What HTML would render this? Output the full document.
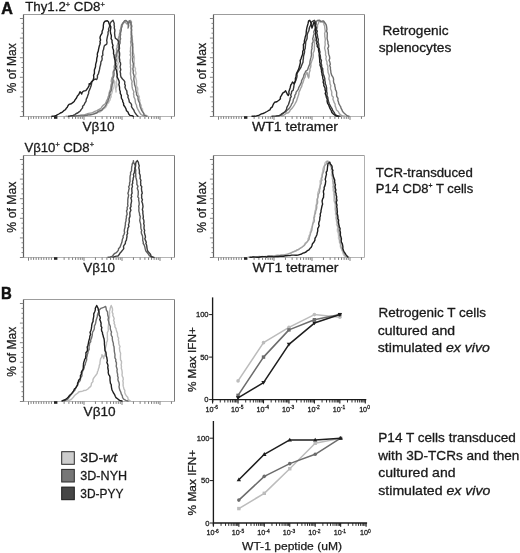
<!DOCTYPE html>
<html><head><meta charset="utf-8"><style>
html,body{margin:0;padding:0;background:#fff;}
body{filter:grayscale(1);}
svg{display:block;font-family:"Liberation Sans", sans-serif;}
text{stroke:#1a1a1a;stroke-width:0.27px;}
text.d{stroke-width:0.32px;}
</style></head><body>
<svg width="520" height="553" viewBox="0 0 520 553">
<rect width="520" height="553" fill="#fff"/>
<line x1="23.50" y1="14.50" x2="174.50" y2="14.50" stroke="#9c9c9c" stroke-width="1.1" />
<line x1="23.50" y1="116.50" x2="174.50" y2="116.50" stroke="#b5b5b5" stroke-width="1" />
<line x1="174.50" y1="14.50" x2="174.50" y2="116.50" stroke="#7a7a7a" stroke-width="1" />
<line x1="23.50" y1="14.50" x2="23.50" y2="116.50" stroke="#5e5e5e" stroke-width="1.2" />
<line x1="19.90" y1="116.50" x2="23.50" y2="116.50" stroke="#777" stroke-width="0.9" />
<line x1="21.50" y1="111.60" x2="23.50" y2="111.60" stroke="#777" stroke-width="0.9" />
<line x1="21.50" y1="106.70" x2="23.50" y2="106.70" stroke="#777" stroke-width="0.9" />
<line x1="21.50" y1="101.80" x2="23.50" y2="101.80" stroke="#777" stroke-width="0.9" />
<line x1="19.90" y1="96.90" x2="23.50" y2="96.90" stroke="#777" stroke-width="0.9" />
<line x1="21.50" y1="92.00" x2="23.50" y2="92.00" stroke="#777" stroke-width="0.9" />
<line x1="21.50" y1="87.10" x2="23.50" y2="87.10" stroke="#777" stroke-width="0.9" />
<line x1="21.50" y1="82.20" x2="23.50" y2="82.20" stroke="#777" stroke-width="0.9" />
<line x1="19.90" y1="77.30" x2="23.50" y2="77.30" stroke="#777" stroke-width="0.9" />
<line x1="21.50" y1="72.40" x2="23.50" y2="72.40" stroke="#777" stroke-width="0.9" />
<line x1="21.50" y1="67.50" x2="23.50" y2="67.50" stroke="#777" stroke-width="0.9" />
<line x1="21.50" y1="62.60" x2="23.50" y2="62.60" stroke="#777" stroke-width="0.9" />
<line x1="19.90" y1="57.70" x2="23.50" y2="57.70" stroke="#777" stroke-width="0.9" />
<line x1="21.50" y1="52.80" x2="23.50" y2="52.80" stroke="#777" stroke-width="0.9" />
<line x1="21.50" y1="47.90" x2="23.50" y2="47.90" stroke="#777" stroke-width="0.9" />
<line x1="21.50" y1="43.00" x2="23.50" y2="43.00" stroke="#777" stroke-width="0.9" />
<line x1="19.90" y1="38.10" x2="23.50" y2="38.10" stroke="#777" stroke-width="0.9" />
<line x1="21.50" y1="33.20" x2="23.50" y2="33.20" stroke="#777" stroke-width="0.9" />
<line x1="21.50" y1="28.30" x2="23.50" y2="28.30" stroke="#777" stroke-width="0.9" />
<line x1="21.50" y1="23.40" x2="23.50" y2="23.40" stroke="#777" stroke-width="0.9" />
<line x1="19.90" y1="18.50" x2="23.50" y2="18.50" stroke="#777" stroke-width="0.9" />
<line x1="28.50" y1="116.50" x2="28.50" y2="119.70" stroke="#666" stroke-width="0.85" />
<line x1="31.05" y1="116.50" x2="31.05" y2="118.90" stroke="#666" stroke-width="0.85" />
<line x1="33.60" y1="116.50" x2="33.60" y2="118.90" stroke="#666" stroke-width="0.85" />
<line x1="36.15" y1="116.50" x2="36.15" y2="118.90" stroke="#666" stroke-width="0.85" />
<line x1="38.70" y1="116.50" x2="38.70" y2="118.90" stroke="#666" stroke-width="0.85" />
<line x1="41.25" y1="116.50" x2="41.25" y2="118.90" stroke="#666" stroke-width="0.85" />
<line x1="43.80" y1="116.50" x2="43.80" y2="118.90" stroke="#666" stroke-width="0.85" />
<line x1="46.35" y1="116.50" x2="46.35" y2="118.90" stroke="#666" stroke-width="0.85" />
<line x1="48.90" y1="116.50" x2="48.90" y2="118.90" stroke="#666" stroke-width="0.85" />
<line x1="51.45" y1="116.50" x2="51.45" y2="118.90" stroke="#666" stroke-width="0.85" />
<line x1="84.00" y1="116.50" x2="84.00" y2="119.90" stroke="#666" stroke-width="0.85" />
<line x1="64.13" y1="116.50" x2="64.13" y2="118.90" stroke="#666" stroke-width="0.85" />
<line x1="68.88" y1="116.50" x2="68.88" y2="118.90" stroke="#666" stroke-width="0.85" />
<line x1="72.56" y1="116.50" x2="72.56" y2="118.90" stroke="#666" stroke-width="0.85" />
<line x1="75.57" y1="116.50" x2="75.57" y2="118.90" stroke="#666" stroke-width="0.85" />
<line x1="78.11" y1="116.50" x2="78.11" y2="118.90" stroke="#666" stroke-width="0.85" />
<line x1="80.32" y1="116.50" x2="80.32" y2="118.90" stroke="#666" stroke-width="0.85" />
<line x1="82.26" y1="116.50" x2="82.26" y2="118.90" stroke="#666" stroke-width="0.85" />
<line x1="122.00" y1="116.50" x2="122.00" y2="119.90" stroke="#666" stroke-width="0.85" />
<line x1="95.44" y1="116.50" x2="95.44" y2="118.90" stroke="#666" stroke-width="0.85" />
<line x1="102.13" y1="116.50" x2="102.13" y2="118.90" stroke="#666" stroke-width="0.85" />
<line x1="106.88" y1="116.50" x2="106.88" y2="118.90" stroke="#666" stroke-width="0.85" />
<line x1="110.56" y1="116.50" x2="110.56" y2="118.90" stroke="#666" stroke-width="0.85" />
<line x1="113.57" y1="116.50" x2="113.57" y2="118.90" stroke="#666" stroke-width="0.85" />
<line x1="116.11" y1="116.50" x2="116.11" y2="118.90" stroke="#666" stroke-width="0.85" />
<line x1="118.32" y1="116.50" x2="118.32" y2="118.90" stroke="#666" stroke-width="0.85" />
<line x1="120.26" y1="116.50" x2="120.26" y2="118.90" stroke="#666" stroke-width="0.85" />
<line x1="160.00" y1="116.50" x2="160.00" y2="119.90" stroke="#666" stroke-width="0.85" />
<line x1="133.44" y1="116.50" x2="133.44" y2="118.90" stroke="#666" stroke-width="0.85" />
<line x1="140.13" y1="116.50" x2="140.13" y2="118.90" stroke="#666" stroke-width="0.85" />
<line x1="144.88" y1="116.50" x2="144.88" y2="118.90" stroke="#666" stroke-width="0.85" />
<line x1="148.56" y1="116.50" x2="148.56" y2="118.90" stroke="#666" stroke-width="0.85" />
<line x1="151.57" y1="116.50" x2="151.57" y2="118.90" stroke="#666" stroke-width="0.85" />
<line x1="154.11" y1="116.50" x2="154.11" y2="118.90" stroke="#666" stroke-width="0.85" />
<line x1="156.32" y1="116.50" x2="156.32" y2="118.90" stroke="#666" stroke-width="0.85" />
<line x1="158.26" y1="116.50" x2="158.26" y2="118.90" stroke="#666" stroke-width="0.85" />
<line x1="171.44" y1="116.50" x2="171.44" y2="118.90" stroke="#666" stroke-width="0.85" />
<rect x="54.0" y="116.2" width="3.4" height="2.6" fill="#222"/>
<line x1="213.50" y1="14.50" x2="364.50" y2="14.50" stroke="#9c9c9c" stroke-width="1.1" />
<line x1="213.50" y1="116.50" x2="364.50" y2="116.50" stroke="#b5b5b5" stroke-width="1" />
<line x1="364.50" y1="14.50" x2="364.50" y2="116.50" stroke="#7a7a7a" stroke-width="1" />
<line x1="213.50" y1="14.50" x2="213.50" y2="116.50" stroke="#5e5e5e" stroke-width="1.2" />
<line x1="209.90" y1="116.50" x2="213.50" y2="116.50" stroke="#777" stroke-width="0.9" />
<line x1="211.50" y1="111.60" x2="213.50" y2="111.60" stroke="#777" stroke-width="0.9" />
<line x1="211.50" y1="106.70" x2="213.50" y2="106.70" stroke="#777" stroke-width="0.9" />
<line x1="211.50" y1="101.80" x2="213.50" y2="101.80" stroke="#777" stroke-width="0.9" />
<line x1="209.90" y1="96.90" x2="213.50" y2="96.90" stroke="#777" stroke-width="0.9" />
<line x1="211.50" y1="92.00" x2="213.50" y2="92.00" stroke="#777" stroke-width="0.9" />
<line x1="211.50" y1="87.10" x2="213.50" y2="87.10" stroke="#777" stroke-width="0.9" />
<line x1="211.50" y1="82.20" x2="213.50" y2="82.20" stroke="#777" stroke-width="0.9" />
<line x1="209.90" y1="77.30" x2="213.50" y2="77.30" stroke="#777" stroke-width="0.9" />
<line x1="211.50" y1="72.40" x2="213.50" y2="72.40" stroke="#777" stroke-width="0.9" />
<line x1="211.50" y1="67.50" x2="213.50" y2="67.50" stroke="#777" stroke-width="0.9" />
<line x1="211.50" y1="62.60" x2="213.50" y2="62.60" stroke="#777" stroke-width="0.9" />
<line x1="209.90" y1="57.70" x2="213.50" y2="57.70" stroke="#777" stroke-width="0.9" />
<line x1="211.50" y1="52.80" x2="213.50" y2="52.80" stroke="#777" stroke-width="0.9" />
<line x1="211.50" y1="47.90" x2="213.50" y2="47.90" stroke="#777" stroke-width="0.9" />
<line x1="211.50" y1="43.00" x2="213.50" y2="43.00" stroke="#777" stroke-width="0.9" />
<line x1="209.90" y1="38.10" x2="213.50" y2="38.10" stroke="#777" stroke-width="0.9" />
<line x1="211.50" y1="33.20" x2="213.50" y2="33.20" stroke="#777" stroke-width="0.9" />
<line x1="211.50" y1="28.30" x2="213.50" y2="28.30" stroke="#777" stroke-width="0.9" />
<line x1="211.50" y1="23.40" x2="213.50" y2="23.40" stroke="#777" stroke-width="0.9" />
<line x1="209.90" y1="18.50" x2="213.50" y2="18.50" stroke="#777" stroke-width="0.9" />
<line x1="218.50" y1="116.50" x2="218.50" y2="119.70" stroke="#666" stroke-width="0.85" />
<line x1="221.05" y1="116.50" x2="221.05" y2="118.90" stroke="#666" stroke-width="0.85" />
<line x1="223.60" y1="116.50" x2="223.60" y2="118.90" stroke="#666" stroke-width="0.85" />
<line x1="226.15" y1="116.50" x2="226.15" y2="118.90" stroke="#666" stroke-width="0.85" />
<line x1="228.70" y1="116.50" x2="228.70" y2="118.90" stroke="#666" stroke-width="0.85" />
<line x1="231.25" y1="116.50" x2="231.25" y2="118.90" stroke="#666" stroke-width="0.85" />
<line x1="233.80" y1="116.50" x2="233.80" y2="118.90" stroke="#666" stroke-width="0.85" />
<line x1="236.35" y1="116.50" x2="236.35" y2="118.90" stroke="#666" stroke-width="0.85" />
<line x1="238.90" y1="116.50" x2="238.90" y2="118.90" stroke="#666" stroke-width="0.85" />
<line x1="241.45" y1="116.50" x2="241.45" y2="118.90" stroke="#666" stroke-width="0.85" />
<line x1="274.00" y1="116.50" x2="274.00" y2="119.90" stroke="#666" stroke-width="0.85" />
<line x1="254.13" y1="116.50" x2="254.13" y2="118.90" stroke="#666" stroke-width="0.85" />
<line x1="258.88" y1="116.50" x2="258.88" y2="118.90" stroke="#666" stroke-width="0.85" />
<line x1="262.56" y1="116.50" x2="262.56" y2="118.90" stroke="#666" stroke-width="0.85" />
<line x1="265.57" y1="116.50" x2="265.57" y2="118.90" stroke="#666" stroke-width="0.85" />
<line x1="268.11" y1="116.50" x2="268.11" y2="118.90" stroke="#666" stroke-width="0.85" />
<line x1="270.32" y1="116.50" x2="270.32" y2="118.90" stroke="#666" stroke-width="0.85" />
<line x1="272.26" y1="116.50" x2="272.26" y2="118.90" stroke="#666" stroke-width="0.85" />
<line x1="312.00" y1="116.50" x2="312.00" y2="119.90" stroke="#666" stroke-width="0.85" />
<line x1="285.44" y1="116.50" x2="285.44" y2="118.90" stroke="#666" stroke-width="0.85" />
<line x1="292.13" y1="116.50" x2="292.13" y2="118.90" stroke="#666" stroke-width="0.85" />
<line x1="296.88" y1="116.50" x2="296.88" y2="118.90" stroke="#666" stroke-width="0.85" />
<line x1="300.56" y1="116.50" x2="300.56" y2="118.90" stroke="#666" stroke-width="0.85" />
<line x1="303.57" y1="116.50" x2="303.57" y2="118.90" stroke="#666" stroke-width="0.85" />
<line x1="306.11" y1="116.50" x2="306.11" y2="118.90" stroke="#666" stroke-width="0.85" />
<line x1="308.32" y1="116.50" x2="308.32" y2="118.90" stroke="#666" stroke-width="0.85" />
<line x1="310.26" y1="116.50" x2="310.26" y2="118.90" stroke="#666" stroke-width="0.85" />
<line x1="350.00" y1="116.50" x2="350.00" y2="119.90" stroke="#666" stroke-width="0.85" />
<line x1="323.44" y1="116.50" x2="323.44" y2="118.90" stroke="#666" stroke-width="0.85" />
<line x1="330.13" y1="116.50" x2="330.13" y2="118.90" stroke="#666" stroke-width="0.85" />
<line x1="334.88" y1="116.50" x2="334.88" y2="118.90" stroke="#666" stroke-width="0.85" />
<line x1="338.56" y1="116.50" x2="338.56" y2="118.90" stroke="#666" stroke-width="0.85" />
<line x1="341.57" y1="116.50" x2="341.57" y2="118.90" stroke="#666" stroke-width="0.85" />
<line x1="344.11" y1="116.50" x2="344.11" y2="118.90" stroke="#666" stroke-width="0.85" />
<line x1="346.32" y1="116.50" x2="346.32" y2="118.90" stroke="#666" stroke-width="0.85" />
<line x1="348.26" y1="116.50" x2="348.26" y2="118.90" stroke="#666" stroke-width="0.85" />
<line x1="361.44" y1="116.50" x2="361.44" y2="118.90" stroke="#666" stroke-width="0.85" />
<rect x="244.0" y="116.2" width="3.4" height="2.6" fill="#222"/>
<line x1="23.50" y1="155.50" x2="174.50" y2="155.50" stroke="#9c9c9c" stroke-width="1.1" />
<line x1="23.50" y1="257.50" x2="174.50" y2="257.50" stroke="#b5b5b5" stroke-width="1" />
<line x1="174.50" y1="155.50" x2="174.50" y2="257.50" stroke="#7a7a7a" stroke-width="1" />
<line x1="23.50" y1="155.50" x2="23.50" y2="257.50" stroke="#5e5e5e" stroke-width="1.2" />
<line x1="19.90" y1="257.50" x2="23.50" y2="257.50" stroke="#777" stroke-width="0.9" />
<line x1="21.50" y1="252.60" x2="23.50" y2="252.60" stroke="#777" stroke-width="0.9" />
<line x1="21.50" y1="247.70" x2="23.50" y2="247.70" stroke="#777" stroke-width="0.9" />
<line x1="21.50" y1="242.80" x2="23.50" y2="242.80" stroke="#777" stroke-width="0.9" />
<line x1="19.90" y1="237.90" x2="23.50" y2="237.90" stroke="#777" stroke-width="0.9" />
<line x1="21.50" y1="233.00" x2="23.50" y2="233.00" stroke="#777" stroke-width="0.9" />
<line x1="21.50" y1="228.10" x2="23.50" y2="228.10" stroke="#777" stroke-width="0.9" />
<line x1="21.50" y1="223.20" x2="23.50" y2="223.20" stroke="#777" stroke-width="0.9" />
<line x1="19.90" y1="218.30" x2="23.50" y2="218.30" stroke="#777" stroke-width="0.9" />
<line x1="21.50" y1="213.40" x2="23.50" y2="213.40" stroke="#777" stroke-width="0.9" />
<line x1="21.50" y1="208.50" x2="23.50" y2="208.50" stroke="#777" stroke-width="0.9" />
<line x1="21.50" y1="203.60" x2="23.50" y2="203.60" stroke="#777" stroke-width="0.9" />
<line x1="19.90" y1="198.70" x2="23.50" y2="198.70" stroke="#777" stroke-width="0.9" />
<line x1="21.50" y1="193.80" x2="23.50" y2="193.80" stroke="#777" stroke-width="0.9" />
<line x1="21.50" y1="188.90" x2="23.50" y2="188.90" stroke="#777" stroke-width="0.9" />
<line x1="21.50" y1="184.00" x2="23.50" y2="184.00" stroke="#777" stroke-width="0.9" />
<line x1="19.90" y1="179.10" x2="23.50" y2="179.10" stroke="#777" stroke-width="0.9" />
<line x1="21.50" y1="174.20" x2="23.50" y2="174.20" stroke="#777" stroke-width="0.9" />
<line x1="21.50" y1="169.30" x2="23.50" y2="169.30" stroke="#777" stroke-width="0.9" />
<line x1="21.50" y1="164.40" x2="23.50" y2="164.40" stroke="#777" stroke-width="0.9" />
<line x1="19.90" y1="159.50" x2="23.50" y2="159.50" stroke="#777" stroke-width="0.9" />
<line x1="28.50" y1="257.50" x2="28.50" y2="260.70" stroke="#666" stroke-width="0.85" />
<line x1="31.05" y1="257.50" x2="31.05" y2="259.90" stroke="#666" stroke-width="0.85" />
<line x1="33.60" y1="257.50" x2="33.60" y2="259.90" stroke="#666" stroke-width="0.85" />
<line x1="36.15" y1="257.50" x2="36.15" y2="259.90" stroke="#666" stroke-width="0.85" />
<line x1="38.70" y1="257.50" x2="38.70" y2="259.90" stroke="#666" stroke-width="0.85" />
<line x1="41.25" y1="257.50" x2="41.25" y2="259.90" stroke="#666" stroke-width="0.85" />
<line x1="43.80" y1="257.50" x2="43.80" y2="259.90" stroke="#666" stroke-width="0.85" />
<line x1="46.35" y1="257.50" x2="46.35" y2="259.90" stroke="#666" stroke-width="0.85" />
<line x1="48.90" y1="257.50" x2="48.90" y2="259.90" stroke="#666" stroke-width="0.85" />
<line x1="51.45" y1="257.50" x2="51.45" y2="259.90" stroke="#666" stroke-width="0.85" />
<line x1="84.00" y1="257.50" x2="84.00" y2="260.90" stroke="#666" stroke-width="0.85" />
<line x1="64.13" y1="257.50" x2="64.13" y2="259.90" stroke="#666" stroke-width="0.85" />
<line x1="68.88" y1="257.50" x2="68.88" y2="259.90" stroke="#666" stroke-width="0.85" />
<line x1="72.56" y1="257.50" x2="72.56" y2="259.90" stroke="#666" stroke-width="0.85" />
<line x1="75.57" y1="257.50" x2="75.57" y2="259.90" stroke="#666" stroke-width="0.85" />
<line x1="78.11" y1="257.50" x2="78.11" y2="259.90" stroke="#666" stroke-width="0.85" />
<line x1="80.32" y1="257.50" x2="80.32" y2="259.90" stroke="#666" stroke-width="0.85" />
<line x1="82.26" y1="257.50" x2="82.26" y2="259.90" stroke="#666" stroke-width="0.85" />
<line x1="122.00" y1="257.50" x2="122.00" y2="260.90" stroke="#666" stroke-width="0.85" />
<line x1="95.44" y1="257.50" x2="95.44" y2="259.90" stroke="#666" stroke-width="0.85" />
<line x1="102.13" y1="257.50" x2="102.13" y2="259.90" stroke="#666" stroke-width="0.85" />
<line x1="106.88" y1="257.50" x2="106.88" y2="259.90" stroke="#666" stroke-width="0.85" />
<line x1="110.56" y1="257.50" x2="110.56" y2="259.90" stroke="#666" stroke-width="0.85" />
<line x1="113.57" y1="257.50" x2="113.57" y2="259.90" stroke="#666" stroke-width="0.85" />
<line x1="116.11" y1="257.50" x2="116.11" y2="259.90" stroke="#666" stroke-width="0.85" />
<line x1="118.32" y1="257.50" x2="118.32" y2="259.90" stroke="#666" stroke-width="0.85" />
<line x1="120.26" y1="257.50" x2="120.26" y2="259.90" stroke="#666" stroke-width="0.85" />
<line x1="160.00" y1="257.50" x2="160.00" y2="260.90" stroke="#666" stroke-width="0.85" />
<line x1="133.44" y1="257.50" x2="133.44" y2="259.90" stroke="#666" stroke-width="0.85" />
<line x1="140.13" y1="257.50" x2="140.13" y2="259.90" stroke="#666" stroke-width="0.85" />
<line x1="144.88" y1="257.50" x2="144.88" y2="259.90" stroke="#666" stroke-width="0.85" />
<line x1="148.56" y1="257.50" x2="148.56" y2="259.90" stroke="#666" stroke-width="0.85" />
<line x1="151.57" y1="257.50" x2="151.57" y2="259.90" stroke="#666" stroke-width="0.85" />
<line x1="154.11" y1="257.50" x2="154.11" y2="259.90" stroke="#666" stroke-width="0.85" />
<line x1="156.32" y1="257.50" x2="156.32" y2="259.90" stroke="#666" stroke-width="0.85" />
<line x1="158.26" y1="257.50" x2="158.26" y2="259.90" stroke="#666" stroke-width="0.85" />
<line x1="171.44" y1="257.50" x2="171.44" y2="259.90" stroke="#666" stroke-width="0.85" />
<rect x="54.0" y="257.2" width="3.4" height="2.6" fill="#222"/>
<line x1="23.50" y1="299.50" x2="174.50" y2="299.50" stroke="#9c9c9c" stroke-width="1.1" />
<line x1="23.50" y1="401.50" x2="174.50" y2="401.50" stroke="#b5b5b5" stroke-width="1" />
<line x1="174.50" y1="299.50" x2="174.50" y2="401.50" stroke="#7a7a7a" stroke-width="1" />
<line x1="23.50" y1="299.50" x2="23.50" y2="401.50" stroke="#5e5e5e" stroke-width="1.2" />
<line x1="19.90" y1="401.50" x2="23.50" y2="401.50" stroke="#777" stroke-width="0.9" />
<line x1="21.50" y1="396.60" x2="23.50" y2="396.60" stroke="#777" stroke-width="0.9" />
<line x1="21.50" y1="391.70" x2="23.50" y2="391.70" stroke="#777" stroke-width="0.9" />
<line x1="21.50" y1="386.80" x2="23.50" y2="386.80" stroke="#777" stroke-width="0.9" />
<line x1="19.90" y1="381.90" x2="23.50" y2="381.90" stroke="#777" stroke-width="0.9" />
<line x1="21.50" y1="377.00" x2="23.50" y2="377.00" stroke="#777" stroke-width="0.9" />
<line x1="21.50" y1="372.10" x2="23.50" y2="372.10" stroke="#777" stroke-width="0.9" />
<line x1="21.50" y1="367.20" x2="23.50" y2="367.20" stroke="#777" stroke-width="0.9" />
<line x1="19.90" y1="362.30" x2="23.50" y2="362.30" stroke="#777" stroke-width="0.9" />
<line x1="21.50" y1="357.40" x2="23.50" y2="357.40" stroke="#777" stroke-width="0.9" />
<line x1="21.50" y1="352.50" x2="23.50" y2="352.50" stroke="#777" stroke-width="0.9" />
<line x1="21.50" y1="347.60" x2="23.50" y2="347.60" stroke="#777" stroke-width="0.9" />
<line x1="19.90" y1="342.70" x2="23.50" y2="342.70" stroke="#777" stroke-width="0.9" />
<line x1="21.50" y1="337.80" x2="23.50" y2="337.80" stroke="#777" stroke-width="0.9" />
<line x1="21.50" y1="332.90" x2="23.50" y2="332.90" stroke="#777" stroke-width="0.9" />
<line x1="21.50" y1="328.00" x2="23.50" y2="328.00" stroke="#777" stroke-width="0.9" />
<line x1="19.90" y1="323.10" x2="23.50" y2="323.10" stroke="#777" stroke-width="0.9" />
<line x1="21.50" y1="318.20" x2="23.50" y2="318.20" stroke="#777" stroke-width="0.9" />
<line x1="21.50" y1="313.30" x2="23.50" y2="313.30" stroke="#777" stroke-width="0.9" />
<line x1="21.50" y1="308.40" x2="23.50" y2="308.40" stroke="#777" stroke-width="0.9" />
<line x1="19.90" y1="303.50" x2="23.50" y2="303.50" stroke="#777" stroke-width="0.9" />
<line x1="28.50" y1="401.50" x2="28.50" y2="404.70" stroke="#666" stroke-width="0.85" />
<line x1="31.05" y1="401.50" x2="31.05" y2="403.90" stroke="#666" stroke-width="0.85" />
<line x1="33.60" y1="401.50" x2="33.60" y2="403.90" stroke="#666" stroke-width="0.85" />
<line x1="36.15" y1="401.50" x2="36.15" y2="403.90" stroke="#666" stroke-width="0.85" />
<line x1="38.70" y1="401.50" x2="38.70" y2="403.90" stroke="#666" stroke-width="0.85" />
<line x1="41.25" y1="401.50" x2="41.25" y2="403.90" stroke="#666" stroke-width="0.85" />
<line x1="43.80" y1="401.50" x2="43.80" y2="403.90" stroke="#666" stroke-width="0.85" />
<line x1="46.35" y1="401.50" x2="46.35" y2="403.90" stroke="#666" stroke-width="0.85" />
<line x1="48.90" y1="401.50" x2="48.90" y2="403.90" stroke="#666" stroke-width="0.85" />
<line x1="51.45" y1="401.50" x2="51.45" y2="403.90" stroke="#666" stroke-width="0.85" />
<line x1="84.00" y1="401.50" x2="84.00" y2="404.90" stroke="#666" stroke-width="0.85" />
<line x1="64.13" y1="401.50" x2="64.13" y2="403.90" stroke="#666" stroke-width="0.85" />
<line x1="68.88" y1="401.50" x2="68.88" y2="403.90" stroke="#666" stroke-width="0.85" />
<line x1="72.56" y1="401.50" x2="72.56" y2="403.90" stroke="#666" stroke-width="0.85" />
<line x1="75.57" y1="401.50" x2="75.57" y2="403.90" stroke="#666" stroke-width="0.85" />
<line x1="78.11" y1="401.50" x2="78.11" y2="403.90" stroke="#666" stroke-width="0.85" />
<line x1="80.32" y1="401.50" x2="80.32" y2="403.90" stroke="#666" stroke-width="0.85" />
<line x1="82.26" y1="401.50" x2="82.26" y2="403.90" stroke="#666" stroke-width="0.85" />
<line x1="122.00" y1="401.50" x2="122.00" y2="404.90" stroke="#666" stroke-width="0.85" />
<line x1="95.44" y1="401.50" x2="95.44" y2="403.90" stroke="#666" stroke-width="0.85" />
<line x1="102.13" y1="401.50" x2="102.13" y2="403.90" stroke="#666" stroke-width="0.85" />
<line x1="106.88" y1="401.50" x2="106.88" y2="403.90" stroke="#666" stroke-width="0.85" />
<line x1="110.56" y1="401.50" x2="110.56" y2="403.90" stroke="#666" stroke-width="0.85" />
<line x1="113.57" y1="401.50" x2="113.57" y2="403.90" stroke="#666" stroke-width="0.85" />
<line x1="116.11" y1="401.50" x2="116.11" y2="403.90" stroke="#666" stroke-width="0.85" />
<line x1="118.32" y1="401.50" x2="118.32" y2="403.90" stroke="#666" stroke-width="0.85" />
<line x1="120.26" y1="401.50" x2="120.26" y2="403.90" stroke="#666" stroke-width="0.85" />
<line x1="160.00" y1="401.50" x2="160.00" y2="404.90" stroke="#666" stroke-width="0.85" />
<line x1="133.44" y1="401.50" x2="133.44" y2="403.90" stroke="#666" stroke-width="0.85" />
<line x1="140.13" y1="401.50" x2="140.13" y2="403.90" stroke="#666" stroke-width="0.85" />
<line x1="144.88" y1="401.50" x2="144.88" y2="403.90" stroke="#666" stroke-width="0.85" />
<line x1="148.56" y1="401.50" x2="148.56" y2="403.90" stroke="#666" stroke-width="0.85" />
<line x1="151.57" y1="401.50" x2="151.57" y2="403.90" stroke="#666" stroke-width="0.85" />
<line x1="154.11" y1="401.50" x2="154.11" y2="403.90" stroke="#666" stroke-width="0.85" />
<line x1="156.32" y1="401.50" x2="156.32" y2="403.90" stroke="#666" stroke-width="0.85" />
<line x1="158.26" y1="401.50" x2="158.26" y2="403.90" stroke="#666" stroke-width="0.85" />
<line x1="171.44" y1="401.50" x2="171.44" y2="403.90" stroke="#666" stroke-width="0.85" />
<rect x="54.0" y="401.2" width="3.4" height="2.6" fill="#222"/>
<line x1="213.50" y1="155.50" x2="364.50" y2="155.50" stroke="#9c9c9c" stroke-width="1.1" />
<line x1="213.50" y1="257.50" x2="364.50" y2="257.50" stroke="#b5b5b5" stroke-width="1" />
<line x1="364.50" y1="155.50" x2="364.50" y2="257.50" stroke="#b0b0b0" stroke-width="1" />
<line x1="213.50" y1="155.50" x2="213.50" y2="257.50" stroke="#5e5e5e" stroke-width="1.2" />
<line x1="209.90" y1="257.50" x2="213.50" y2="257.50" stroke="#777" stroke-width="0.9" />
<line x1="211.50" y1="252.60" x2="213.50" y2="252.60" stroke="#777" stroke-width="0.9" />
<line x1="211.50" y1="247.70" x2="213.50" y2="247.70" stroke="#777" stroke-width="0.9" />
<line x1="211.50" y1="242.80" x2="213.50" y2="242.80" stroke="#777" stroke-width="0.9" />
<line x1="209.90" y1="237.90" x2="213.50" y2="237.90" stroke="#777" stroke-width="0.9" />
<line x1="211.50" y1="233.00" x2="213.50" y2="233.00" stroke="#777" stroke-width="0.9" />
<line x1="211.50" y1="228.10" x2="213.50" y2="228.10" stroke="#777" stroke-width="0.9" />
<line x1="211.50" y1="223.20" x2="213.50" y2="223.20" stroke="#777" stroke-width="0.9" />
<line x1="209.90" y1="218.30" x2="213.50" y2="218.30" stroke="#777" stroke-width="0.9" />
<line x1="211.50" y1="213.40" x2="213.50" y2="213.40" stroke="#777" stroke-width="0.9" />
<line x1="211.50" y1="208.50" x2="213.50" y2="208.50" stroke="#777" stroke-width="0.9" />
<line x1="211.50" y1="203.60" x2="213.50" y2="203.60" stroke="#777" stroke-width="0.9" />
<line x1="209.90" y1="198.70" x2="213.50" y2="198.70" stroke="#777" stroke-width="0.9" />
<line x1="211.50" y1="193.80" x2="213.50" y2="193.80" stroke="#777" stroke-width="0.9" />
<line x1="211.50" y1="188.90" x2="213.50" y2="188.90" stroke="#777" stroke-width="0.9" />
<line x1="211.50" y1="184.00" x2="213.50" y2="184.00" stroke="#777" stroke-width="0.9" />
<line x1="209.90" y1="179.10" x2="213.50" y2="179.10" stroke="#777" stroke-width="0.9" />
<line x1="211.50" y1="174.20" x2="213.50" y2="174.20" stroke="#777" stroke-width="0.9" />
<line x1="211.50" y1="169.30" x2="213.50" y2="169.30" stroke="#777" stroke-width="0.9" />
<line x1="211.50" y1="164.40" x2="213.50" y2="164.40" stroke="#777" stroke-width="0.9" />
<line x1="209.90" y1="159.50" x2="213.50" y2="159.50" stroke="#777" stroke-width="0.9" />
<line x1="218.50" y1="257.50" x2="218.50" y2="260.70" stroke="#666" stroke-width="0.85" />
<line x1="221.05" y1="257.50" x2="221.05" y2="259.90" stroke="#666" stroke-width="0.85" />
<line x1="223.60" y1="257.50" x2="223.60" y2="259.90" stroke="#666" stroke-width="0.85" />
<line x1="226.15" y1="257.50" x2="226.15" y2="259.90" stroke="#666" stroke-width="0.85" />
<line x1="228.70" y1="257.50" x2="228.70" y2="259.90" stroke="#666" stroke-width="0.85" />
<line x1="231.25" y1="257.50" x2="231.25" y2="259.90" stroke="#666" stroke-width="0.85" />
<line x1="233.80" y1="257.50" x2="233.80" y2="259.90" stroke="#666" stroke-width="0.85" />
<line x1="236.35" y1="257.50" x2="236.35" y2="259.90" stroke="#666" stroke-width="0.85" />
<line x1="238.90" y1="257.50" x2="238.90" y2="259.90" stroke="#666" stroke-width="0.85" />
<line x1="241.45" y1="257.50" x2="241.45" y2="259.90" stroke="#666" stroke-width="0.85" />
<line x1="274.00" y1="257.50" x2="274.00" y2="260.90" stroke="#666" stroke-width="0.85" />
<line x1="254.13" y1="257.50" x2="254.13" y2="259.90" stroke="#666" stroke-width="0.85" />
<line x1="258.88" y1="257.50" x2="258.88" y2="259.90" stroke="#666" stroke-width="0.85" />
<line x1="262.56" y1="257.50" x2="262.56" y2="259.90" stroke="#666" stroke-width="0.85" />
<line x1="265.57" y1="257.50" x2="265.57" y2="259.90" stroke="#666" stroke-width="0.85" />
<line x1="268.11" y1="257.50" x2="268.11" y2="259.90" stroke="#666" stroke-width="0.85" />
<line x1="270.32" y1="257.50" x2="270.32" y2="259.90" stroke="#666" stroke-width="0.85" />
<line x1="272.26" y1="257.50" x2="272.26" y2="259.90" stroke="#666" stroke-width="0.85" />
<line x1="312.00" y1="257.50" x2="312.00" y2="260.90" stroke="#666" stroke-width="0.85" />
<line x1="285.44" y1="257.50" x2="285.44" y2="259.90" stroke="#666" stroke-width="0.85" />
<line x1="292.13" y1="257.50" x2="292.13" y2="259.90" stroke="#666" stroke-width="0.85" />
<line x1="296.88" y1="257.50" x2="296.88" y2="259.90" stroke="#666" stroke-width="0.85" />
<line x1="300.56" y1="257.50" x2="300.56" y2="259.90" stroke="#666" stroke-width="0.85" />
<line x1="303.57" y1="257.50" x2="303.57" y2="259.90" stroke="#666" stroke-width="0.85" />
<line x1="306.11" y1="257.50" x2="306.11" y2="259.90" stroke="#666" stroke-width="0.85" />
<line x1="308.32" y1="257.50" x2="308.32" y2="259.90" stroke="#666" stroke-width="0.85" />
<line x1="310.26" y1="257.50" x2="310.26" y2="259.90" stroke="#666" stroke-width="0.85" />
<line x1="350.00" y1="257.50" x2="350.00" y2="260.90" stroke="#666" stroke-width="0.85" />
<line x1="323.44" y1="257.50" x2="323.44" y2="259.90" stroke="#666" stroke-width="0.85" />
<line x1="330.13" y1="257.50" x2="330.13" y2="259.90" stroke="#666" stroke-width="0.85" />
<line x1="334.88" y1="257.50" x2="334.88" y2="259.90" stroke="#666" stroke-width="0.85" />
<line x1="338.56" y1="257.50" x2="338.56" y2="259.90" stroke="#666" stroke-width="0.85" />
<line x1="341.57" y1="257.50" x2="341.57" y2="259.90" stroke="#666" stroke-width="0.85" />
<line x1="344.11" y1="257.50" x2="344.11" y2="259.90" stroke="#666" stroke-width="0.85" />
<line x1="346.32" y1="257.50" x2="346.32" y2="259.90" stroke="#666" stroke-width="0.85" />
<line x1="348.26" y1="257.50" x2="348.26" y2="259.90" stroke="#666" stroke-width="0.85" />
<line x1="361.44" y1="257.50" x2="361.44" y2="259.90" stroke="#666" stroke-width="0.85" />
<rect x="244.0" y="257.2" width="3.4" height="2.6" fill="#222"/>
<polyline points="75.00,116.30 76.47,115.93 78.50,115.73 80.04,115.78 81.18,115.73 82.82,115.53 84.53,115.16 86.58,115.50 87.92,114.96 90.00,115.00 91.81,114.80 93.42,113.93 95.52,113.20 97.06,112.86 97.94,112.25 100.00,112.00 101.29,110.96 102.65,109.55 104.65,108.17 106.00,107.00 106.85,105.31 107.12,104.01 108.60,102.75 109.00,101.46 110.00,100.00 110.37,98.20 111.16,96.80 110.97,95.05 111.69,93.58 112.34,91.53 112.50,90.00 113.24,88.08 112.84,86.84 112.77,84.99 112.86,83.44 113.87,81.71 113.80,80.00 114.61,81.88 114.81,84.06 115.00,86.00 115.42,87.97 116.04,90.29 116.00,92.00 116.11,90.39 115.80,88.70 116.59,87.18 116.93,85.00 116.59,83.54 116.33,81.69 117.00,80.00 116.72,78.08 116.68,76.84 116.84,74.83 117.21,73.58 116.96,71.63 117.55,70.25 117.93,68.57 117.42,66.61 117.59,65.25 118.34,63.10 117.56,61.49 118.00,60.00 117.82,58.32 118.32,56.51 117.79,54.95 118.30,53.38 119.05,51.79 118.68,50.08 118.97,48.04 119.33,46.85 119.00,45.00 119.66,43.53 119.38,41.60 119.31,40.09 119.52,38.05 119.93,36.44 120.50,35.00 120.62,32.90 120.55,31.17 120.96,29.51 121.18,28.05 122.00,26.00 123.13,23.77 124.00,22.00 126.00,21.00 128.00,22.00 130.00,21.00 130.23,22.90 131.00,25.00 131.02,26.42 131.72,28.66 131.46,29.99 131.21,31.40 131.66,33.18 132.00,35.00 132.49,36.40 131.73,38.55 132.41,39.64 132.55,41.19 132.66,43.44 133.15,44.88 132.61,46.29 133.00,48.00 132.82,49.89 133.41,51.61 133.37,52.96 134.09,55.18 134.32,56.77 134.46,58.44 134.30,60.00 134.15,61.76 134.44,63.19 134.23,65.10 134.64,67.13 135.55,68.72 135.20,70.50 135.84,72.51 136.03,73.79 135.38,75.38 135.52,77.05 136.15,79.20 136.55,80.61 136.51,82.51 136.50,84.00 136.38,85.94 137.62,87.85 137.78,89.49 137.48,91.52 137.98,93.37 138.50,95.00 139.42,96.73 139.19,98.89 139.95,100.18 139.69,101.97 140.50,104.00 141.45,105.83 141.11,107.47 142.53,108.98 142.50,110.50 143.17,112.03 143.76,113.18 145.00,115.00 147.02,115.75 148.00,116.30" fill="none" stroke="#bdbdbd" stroke-width="1.4" stroke-linejoin="round" stroke-linecap="round" />
<polyline points="66.00,116.30 67.78,116.46 69.43,116.30 71.61,115.73 72.73,115.66 74.46,115.73 76.24,115.50 77.84,115.70 80.00,115.30 81.55,114.94 83.52,114.91 85.06,114.59 86.86,114.01 88.60,113.34 90.22,113.12 92.00,113.00 93.05,112.40 94.84,111.38 97.05,110.64 98.21,109.81 100.00,109.00 101.31,107.94 102.07,106.54 103.47,105.10 105.00,104.00 106.00,102.41 106.47,100.97 107.55,99.16 107.92,97.60 108.50,96.00 108.87,94.56 109.16,92.88 109.55,91.58 110.15,89.96 110.77,87.98 110.71,86.86 111.00,85.00 111.71,82.93 111.25,81.30 111.53,79.33 111.86,77.78 112.98,76.10 113.00,74.00 112.96,72.26 113.86,70.00 114.44,68.67 114.05,66.78 114.70,64.60 114.80,62.82 115.67,61.29 114.98,59.25 115.58,57.43 115.45,55.65 116.00,54.00 116.54,52.02 116.66,50.63 116.37,48.89 117.34,47.34 117.02,45.99 117.80,44.00 118.40,42.64 117.93,40.51 118.14,39.18 118.68,37.09 119.13,35.94 119.50,34.00 120.23,32.09 119.86,30.78 120.70,28.88 121.00,27.00 121.55,24.71 123.00,23.00 125.00,22.00 127.00,24.00 128.21,22.45 129.00,21.00 130.40,20.50 131.50,22.00 131.07,23.89 131.73,25.40 131.16,27.04 131.18,28.64 131.70,30.00 131.57,31.56 131.59,33.61 131.19,34.76 131.40,36.49 130.85,38.11 131.20,40.00 130.61,41.47 130.79,43.20 131.19,44.86 130.80,46.45 130.53,48.02 130.60,50.00 130.28,51.35 130.76,53.37 130.11,54.98 130.88,56.41 130.70,58.29 130.30,60.00 130.34,61.89 130.28,63.34 130.66,65.32 130.33,66.89 130.78,68.42 130.60,70.00 130.65,71.57 130.41,73.09 130.58,75.16 130.93,76.44 130.89,78.56 131.50,80.00 132.16,81.78 131.76,83.16 132.02,84.97 132.12,86.63 132.49,88.64 133.00,90.00 133.88,91.77 133.44,93.79 133.87,95.13 133.89,96.88 134.80,98.70 135.20,100.28 135.32,101.85 135.53,103.27 136.50,105.00 136.72,106.77 137.33,108.35 138.50,110.50 139.53,112.32 141.00,114.50 142.59,115.42 144.00,116.30" fill="none" stroke="#9a9a9a" stroke-width="1.4" stroke-linejoin="round" stroke-linecap="round" />
<polyline points="72.00,116.30 73.90,116.30 75.49,116.35 76.75,115.89 79.03,115.67 80.37,115.89 81.25,115.92 83.81,115.68 85.00,115.50 86.92,115.37 87.94,114.85 90.00,114.72 92.00,114.38 93.43,114.09 95.00,113.50 96.95,112.75 98.20,111.44 99.85,110.78 102.00,110.00 102.57,108.97 104.06,107.58 105.14,106.37 106.00,105.00 106.74,102.92 107.83,101.66 108.25,99.77 109.00,98.00 109.59,96.05 110.09,94.50 109.78,92.85 110.92,91.14 111.35,89.98 111.50,88.00 111.83,86.09 112.14,84.45 112.79,82.58 112.99,80.39 112.78,78.67 113.50,77.00 114.02,75.04 114.07,73.01 113.77,71.35 114.69,69.79 114.94,67.70 115.00,66.00 115.23,64.32 115.39,62.43 116.08,60.83 116.38,59.66 115.54,57.69 116.64,56.37 116.50,54.40 117.21,52.31 117.71,50.83 118.80,48.60 118.72,47.03 118.89,45.38 120.02,43.50 120.11,42.13 120.00,40.50 120.63,38.79 120.10,37.08 120.58,34.67 120.25,33.13 121.00,31.30 121.33,29.55 121.36,27.96 121.94,26.66 121.97,24.99 122.90,23.20 124.50,20.80 126.00,20.50 127.50,22.00 128.04,23.75 128.30,26.14 128.00,28.00 128.69,25.86 128.50,24.00 129.50,21.00 131.00,23.00 130.98,24.68 131.80,26.56 131.22,28.20 131.50,30.00 131.34,31.37 131.23,33.55 131.51,35.29 131.56,36.51 131.93,38.13 132.00,40.00 131.93,42.02 132.57,43.63 132.36,45.42 132.77,46.89 132.60,48.27 132.68,50.25 132.50,52.00 132.83,53.76 132.36,55.04 133.12,56.75 132.67,58.56 132.53,60.49 132.80,62.00 133.42,63.64 133.17,65.47 133.16,67.33 132.83,68.98 133.30,71.00 133.15,72.98 133.64,74.24 134.26,76.47 133.93,77.62 133.82,79.30 134.15,81.02 134.50,83.00 134.55,84.51 135.24,86.59 135.77,87.94 135.74,89.68 136.03,91.23 136.50,93.00 136.52,94.85 138.01,96.75 138.00,99.00 138.60,101.09 139.60,102.81 139.80,105.00 140.21,106.73 141.02,108.76 141.80,110.70 143.03,112.43 143.68,113.38 144.00,115.20 147.00,116.30" fill="none" stroke="#6f6f6f" stroke-width="1.4" stroke-linejoin="round" stroke-linecap="round" />
<polyline points="68.50,116.30 70.24,115.99 73.00,115.40 75.00,114.58 76.23,113.47 77.70,113.00 78.71,112.15 80.32,110.97 81.10,109.60 82.59,107.90 82.60,106.31 84.00,105.00 84.79,103.19 86.02,101.28 86.30,99.20 87.23,97.44 87.79,95.37 88.60,93.40 88.69,91.69 89.51,89.88 90.40,87.70 91.11,85.82 91.50,84.20 91.69,82.34 92.70,80.80 95.00,79.00 96.70,79.60 97.42,77.80 97.41,75.45 98.40,73.80 99.03,71.55 99.60,69.20 99.88,67.12 100.51,65.08 100.80,63.50 100.90,61.76 101.94,60.16 102.17,58.33 101.77,56.47 102.89,55.05 102.70,53.20 102.91,51.01 103.55,49.57 103.89,47.41 104.40,45.70 106.70,44.20 107.03,42.71 106.70,40.34 106.97,38.82 107.30,37.10 107.74,35.28 108.11,34.02 108.03,32.05 108.78,30.50 108.50,29.00 109.40,27.07 109.60,25.50 109.99,23.92 111.00,22.00 113.00,20.30 114.20,23.20 114.09,25.12 114.44,26.23 114.26,28.01 114.86,29.98 114.80,31.30 114.56,32.95 114.78,35.06 114.86,36.18 115.40,38.20 117.70,40.00 118.80,41.70 118.38,43.30 119.37,45.29 119.26,47.03 119.54,48.25 118.79,50.32 119.20,51.70 119.59,53.05 119.62,54.94 119.42,56.57 119.32,58.01 119.80,60.00 119.66,61.50 120.50,62.95 120.61,64.61 120.04,66.61 120.30,68.00 120.79,69.76 120.08,71.58 120.58,73.68 120.52,75.11 121.00,77.00 122.50,79.00 124.00,80.50 124.80,81.95 124.62,84.23 125.37,85.48 124.93,87.25 125.80,89.30 126.73,90.71 127.01,92.70 127.02,93.85 128.17,95.64 127.87,97.28 128.60,98.70 129.03,100.14 129.32,102.04 130.96,103.54 131.62,104.72 131.47,106.60 132.40,108.20 133.94,110.27 134.34,111.57 135.50,113.50 136.67,114.90 138.00,116.30" fill="none" stroke="#3a3a3a" stroke-width="1.4" stroke-linejoin="round" stroke-linecap="round" />
<polyline points="52.00,116.30 54.60,116.00 56.30,115.40 58.82,113.99 60.40,113.00 62.43,112.01 63.80,110.70 65.32,109.75 66.25,108.32 67.30,107.30 67.95,105.76 69.00,104.40 71.30,103.80 73.06,102.37 74.20,101.50 75.02,99.92 76.50,98.00 77.37,96.01 78.80,94.60 80.00,91.70 81.70,94.00 82.04,92.58 83.40,91.10 85.80,90.60 86.71,89.47 88.00,87.70 89.02,85.97 89.20,83.60 90.40,84.20 90.99,82.48 92.10,81.30 93.30,79.60 93.80,77.30 93.56,75.37 94.43,73.40 94.40,71.50 94.41,69.72 95.13,68.16 95.57,66.55 95.60,64.60 96.11,62.65 96.62,61.06 96.65,59.42 96.90,57.80 97.49,55.96 97.28,54.35 97.50,53.12 98.30,51.11 98.43,49.91 98.88,47.77 99.20,46.30 99.80,44.76 100.25,42.75 99.94,41.58 100.60,40.00 99.98,37.95 100.32,36.24 101.00,34.80 102.07,33.10 102.10,31.30 102.97,29.28 103.30,27.40 103.30,25.50 103.80,22.70 105.00,21.20 107.30,20.70 108.50,21.80 109.09,23.83 110.20,25.50 110.85,26.88 110.62,28.86 110.36,30.34 110.43,31.88 110.72,33.78 111.31,35.16 111.30,37.00 111.06,38.64 112.10,40.29 111.99,42.05 112.50,44.00 113.04,45.63 112.46,46.94 113.04,48.83 113.53,50.13 113.60,52.00 113.51,53.73 114.06,55.06 114.23,57.10 114.51,58.44 115.00,60.00 115.09,61.59 115.89,63.61 115.58,64.73 116.22,66.38 115.67,68.48 116.37,70.07 116.70,71.50 116.90,73.50 117.26,74.78 117.07,76.78 117.90,78.50 119.00,80.80 119.30,82.80 118.85,84.33 119.31,85.98 119.60,87.70 119.55,89.40 120.30,91.66 120.19,93.21 121.30,95.37 121.30,96.90 121.43,98.27 122.71,100.45 122.66,101.47 123.61,103.31 123.60,105.00 125.01,106.98 125.89,108.58 126.50,110.70 127.98,112.08 128.73,114.06 130.00,115.40 132.06,115.64 133.40,116.30" fill="none" stroke="#1e1e1e" stroke-width="1.4" stroke-linejoin="round" stroke-linecap="round" />
<polyline points="282.00,116.30 283.21,115.27 285.06,114.30 286.15,113.25 288.33,112.72 289.60,111.50 290.26,110.01 292.22,108.13 293.10,106.90 294.32,105.20 294.91,104.03 295.79,102.42 296.50,101.10 296.99,99.43 297.57,97.75 298.17,95.88 298.80,94.20 298.88,92.35 299.99,90.16 300.60,88.40 301.66,86.68 302.09,84.39 302.90,82.70 303.64,80.51 304.02,78.79 305.20,76.90 305.32,75.33 306.34,73.53 306.90,72.30 307.50,73.87 307.80,76.00 308.60,78.00 309.10,76.34 309.09,74.03 309.32,72.40 310.06,70.40 309.80,68.80 310.62,67.40 310.91,65.56 310.74,63.94 311.50,61.90 311.94,60.48 312.86,58.23 313.17,57.01 313.30,55.00 313.02,53.23 313.98,51.44 314.34,49.85 314.45,48.10 314.30,46.94 314.50,45.00 314.38,43.10 314.91,41.39 314.59,39.56 314.93,38.32 315.70,36.55 315.34,34.73 315.90,32.80 315.88,30.87 316.85,28.81 317.51,26.99 317.50,25.00 318.34,23.50 319.00,21.50 321.00,21.00 323.00,22.50 324.00,22.00 323.87,24.33 324.60,26.00 324.78,27.73 325.01,29.44 325.26,31.45 324.61,33.37 324.80,35.00 324.79,36.54 325.17,38.20 325.30,40.09 325.00,42.00 325.17,43.92 325.13,45.31 324.85,46.47 324.57,48.17 325.10,50.00 325.50,51.68 325.66,53.72 325.51,55.01 326.35,56.60 325.91,58.55 326.30,60.28 327.00,62.10 326.95,63.88 327.61,65.36 327.91,67.27 327.63,69.30 328.00,70.51 328.10,72.56 328.80,74.20 329.41,76.00 329.09,77.28 328.86,79.15 329.67,80.57 329.96,82.25 330.00,83.90 330.84,85.75 330.44,87.57 330.58,89.02 331.34,90.53 331.80,92.40 331.67,94.26 331.98,95.79 333.37,97.20 332.91,99.19 333.60,100.80 334.21,102.72 335.14,104.24 335.19,106.14 336.00,108.10 336.50,109.99 338.31,111.51 339.00,113.00 340.31,114.73 342.70,116.00 345.00,116.30" fill="none" stroke="#a3a3a3" stroke-width="1.4" stroke-linejoin="round" stroke-linecap="round" />
<polyline points="276.00,116.30 278.10,115.84 279.93,115.40 281.50,115.00 282.73,113.57 284.27,112.36 286.10,111.50 287.29,110.13 289.05,108.66 290.20,106.90 291.16,105.30 291.71,103.96 292.69,102.57 293.10,101.10 293.41,99.29 294.74,97.11 294.80,95.40 295.98,93.55 296.07,92.16 297.10,90.80 298.22,89.34 298.80,87.30 299.97,85.44 300.60,83.80 301.58,82.15 301.45,81.00 302.30,79.20 303.01,77.79 303.62,76.45 304.00,74.60 304.87,73.07 305.80,71.10 307.50,70.00 308.50,67.00 309.20,65.40 309.82,63.70 309.93,61.68 310.40,59.60 311.03,57.17 311.50,55.00 311.33,53.48 311.34,52.07 311.56,49.89 312.10,48.60 311.84,47.23 312.27,45.05 312.10,43.33 313.00,42.06 313.17,40.47 312.65,38.72 313.30,37.00 313.45,35.46 314.25,33.76 313.72,31.99 314.50,30.00 315.46,28.29 315.07,25.81 316.00,24.00 316.22,21.94 317.30,20.50 319.60,20.30 321.00,22.00 322.50,21.00 323.50,21.00 325.00,23.00 326.13,24.71 326.50,26.00 326.79,28.01 326.92,29.46 326.48,31.13 327.34,33.01 327.20,35.00 327.20,36.70 327.07,38.34 327.56,40.39 328.00,42.00 327.91,43.48 328.63,45.20 328.57,46.88 327.72,48.34 328.30,50.00 328.44,51.91 328.56,53.59 328.98,55.00 329.56,56.64 329.72,58.43 329.04,60.17 329.80,62.10 330.32,64.14 329.71,65.55 330.48,67.48 330.37,69.01 330.77,70.96 330.91,72.76 331.40,74.20 331.90,75.65 333.09,77.47 333.60,79.10 333.47,80.99 333.74,82.89 334.72,84.69 334.80,86.30 335.30,87.90 335.41,89.63 336.31,91.13 336.67,92.79 336.60,94.80 336.75,96.47 337.99,98.45 337.89,100.53 338.50,102.10 338.83,103.57 339.78,105.27 340.65,106.70 341.00,108.10 341.83,109.62 342.62,111.59 344.00,113.00 345.93,114.66 347.50,116.00 349.00,116.30" fill="none" stroke="#6f6f6f" stroke-width="1.4" stroke-linejoin="round" stroke-linecap="round" />
<polyline points="272.00,116.30 273.39,116.13 275.80,116.10 276.84,115.90 279.00,115.80 280.92,114.69 281.66,113.80 283.50,113.00 285.22,111.48 286.50,109.50 286.79,107.61 287.56,106.05 288.50,104.50 289.27,102.03 290.00,100.00 290.19,98.04 291.27,96.65 290.69,95.06 291.50,93.00 291.64,91.42 293.18,90.19 293.48,88.46 293.80,87.00 293.95,85.53 294.33,83.69 295.12,82.01 295.61,80.95 296.20,79.20 296.79,77.48 297.10,75.73 296.93,74.09 297.70,72.30 299.20,70.00 300.80,67.70 301.30,66.31 302.00,64.60 303.00,62.25 303.10,60.00 303.41,58.50 303.48,56.49 303.80,55.00 304.28,53.58 304.57,51.80 304.50,50.00 305.22,48.45 305.32,46.64 305.50,45.00 305.63,43.42 305.72,41.61 306.50,40.00 307.06,38.54 307.14,36.64 307.17,35.17 307.50,33.60 308.20,32.01 308.83,30.82 309.20,29.00 309.45,27.35 310.40,25.50 311.26,23.68 311.50,22.00 313.30,20.90 314.40,20.30 315.50,22.00 315.82,24.31 315.66,26.03 316.50,28.00 316.33,29.79 317.38,31.21 316.66,32.85 317.35,34.54 317.50,36.00 317.75,37.69 318.34,39.21 318.12,41.10 318.14,42.52 318.70,44.00 318.84,45.77 318.80,47.52 319.32,48.51 319.49,50.33 320.00,52.00 319.66,53.61 320.31,55.46 320.44,56.85 320.50,58.83 321.48,60.35 321.20,62.00 321.19,63.83 321.68,65.08 321.69,67.08 322.74,68.62 322.67,70.21 323.00,71.80 323.10,73.71 323.64,75.09 324.20,76.60 324.85,78.63 324.76,80.11 325.15,81.83 325.40,83.90 326.17,85.84 326.59,87.81 326.60,90.00 326.76,91.64 327.12,93.39 326.95,95.55 327.80,97.20 327.99,99.07 328.45,101.25 329.10,103.30 329.92,105.19 330.90,106.90 331.98,108.61 332.70,110.50 334.32,112.58 335.00,114.20 337.50,116.00 340.00,116.30" fill="none" stroke="#3a3a3a" stroke-width="1.4" stroke-linejoin="round" stroke-linecap="round" />
<polyline points="252.00,116.30 253.51,116.25 256.45,115.95 258.00,115.50 259.27,115.05 261.48,113.85 263.00,113.50 264.46,112.80 267.00,111.50 268.67,110.49 270.00,109.80 270.71,108.11 272.30,106.90 272.77,105.55 273.66,103.60 274.60,102.30 276.90,101.70 279.20,100.00 280.41,98.66 280.37,97.19 281.50,95.40 282.70,93.10 284.27,92.14 285.60,90.80 286.64,92.76 287.30,94.20 288.30,95.50 289.05,93.76 288.83,91.69 289.60,89.60 290.23,87.46 290.80,85.00 291.58,83.80 292.50,82.10 294.20,83.80 294.86,81.94 295.40,80.40 295.38,78.44 295.94,76.66 296.19,74.99 296.50,73.50 297.70,71.10 298.80,68.80 299.39,66.50 300.00,64.20 300.41,62.54 300.19,60.62 301.10,58.50 301.66,56.79 302.30,55.00 302.72,53.48 302.64,51.47 303.53,49.50 303.41,48.13 303.50,46.30 303.32,44.51 304.38,42.86 304.33,41.04 304.87,38.85 305.20,37.00 306.00,34.79 306.17,33.28 306.30,31.30 306.52,29.61 306.95,27.42 307.50,25.50 308.08,23.38 308.60,20.90 309.80,20.30 311.00,23.00 311.02,24.62 311.58,26.37 312.00,28.00 313.00,25.00 314.00,22.00 314.86,23.61 315.00,25.50 315.52,27.08 315.32,28.64 315.48,30.74 315.80,32.26 315.60,33.59 315.72,35.41 316.10,37.00 316.49,38.79 316.07,40.35 317.24,41.83 316.56,43.27 317.30,45.00 317.16,46.46 318.56,48.41 318.50,50.00 318.85,51.92 319.29,53.53 319.14,55.27 319.40,56.98 319.56,58.45 319.71,60.34 319.70,62.10 320.29,63.45 319.95,65.03 320.90,67.22 321.07,68.48 321.55,70.37 321.50,71.80 321.97,73.24 322.08,74.95 322.70,76.60 322.80,78.38 323.46,80.54 323.11,82.12 323.90,83.90 323.79,85.68 325.04,88.02 325.10,90.00 325.86,91.76 325.17,93.53 326.10,95.69 326.30,97.20 327.26,99.22 327.07,101.00 327.60,103.30 328.66,104.91 329.40,106.90 329.92,108.38 331.20,110.50 331.86,112.47 333.60,114.20 336.00,116.00 338.00,116.30" fill="none" stroke="#1e1e1e" stroke-width="1.4" stroke-linejoin="round" stroke-linecap="round" />
<polyline points="108.00,257.30 109.58,257.21 112.00,256.50 112.92,255.49 114.34,253.68 116.37,252.58 117.50,251.50 118.50,249.79 118.49,248.68 119.95,247.23 120.71,245.23 121.20,244.00 121.81,242.55 122.09,241.12 122.33,239.56 123.31,237.34 123.00,236.18 124.00,234.50 124.60,232.54 124.29,231.28 124.38,229.68 124.98,227.46 125.10,226.11 125.43,224.49 125.36,222.88 126.00,221.00 126.01,219.40 126.46,217.55 126.35,216.09 127.13,214.39 126.87,212.36 126.48,211.11 127.34,209.32 127.10,207.47 127.97,205.92 127.60,204.00 127.85,202.12 127.80,200.76 127.88,198.87 128.26,197.26 128.63,195.11 127.88,193.34 128.48,191.81 128.70,190.00 129.23,188.54 128.57,186.79 129.60,185.10 129.52,182.99 130.01,181.63 130.02,179.99 130.00,178.00 130.11,175.89 130.63,174.53 130.52,172.67 131.61,170.49 131.53,168.95 131.70,167.00 132.09,165.21 132.28,163.97 133.30,162.17 133.40,160.60 133.65,162.75 134.80,164.50 135.30,166.22 135.29,168.56 135.82,170.21 135.57,172.16 135.80,174.00 135.71,175.55 135.95,177.63 136.40,179.29 136.80,181.00 136.91,182.81 136.85,184.30 138.01,186.32 137.25,188.29 137.90,190.00 138.32,191.41 138.21,193.17 138.22,194.59 137.79,196.87 138.80,198.17 138.57,199.66 138.91,201.41 139.19,203.27 139.15,205.03 138.63,206.06 139.00,208.00 138.83,209.52 138.87,211.16 139.55,213.43 139.61,215.20 140.27,216.35 140.09,218.30 139.73,220.39 140.04,221.86 140.63,223.85 140.82,225.20 140.80,227.00 140.98,228.45 141.79,230.67 141.21,231.72 141.48,233.60 142.43,235.64 142.60,236.75 142.78,238.86 142.70,240.40 143.33,242.30 143.14,243.33 144.38,245.44 144.76,246.60 145.13,248.49 145.50,249.90 146.02,251.21 147.13,252.50 148.33,253.96 149.30,255.60 152.00,257.30" fill="none" stroke="#5e5e5e" stroke-width="1.4" stroke-linejoin="round" stroke-linecap="round" />
<polyline points="113.00,257.30 114.38,256.63 116.53,256.11 118.00,256.00 119.44,254.27 119.89,253.23 121.29,251.71 122.80,249.90 123.75,248.53 123.49,246.61 123.99,245.30 125.35,243.47 125.46,241.65 126.41,240.11 126.60,238.50 127.02,236.55 126.85,234.79 127.68,233.41 127.33,231.90 127.74,229.89 127.90,228.09 128.93,226.42 128.47,224.81 128.92,223.38 129.40,221.40 129.12,220.08 129.19,218.38 130.01,216.29 129.94,214.70 129.83,213.00 130.09,211.88 130.93,210.20 130.08,208.14 131.10,206.35 130.80,205.00 131.17,203.20 131.57,201.35 131.50,199.89 130.89,198.00 131.78,196.68 131.19,194.96 132.11,193.15 131.86,191.43 131.90,190.00 131.73,188.46 132.50,186.37 131.99,184.58 132.76,183.14 132.58,181.23 133.14,179.85 133.20,178.00 133.81,176.39 133.41,174.38 134.26,172.94 134.51,171.04 134.88,169.56 134.80,168.00 135.61,166.24 135.66,163.68 136.10,162.00 137.30,160.60 138.40,162.28 138.60,164.00 139.26,165.68 138.75,167.89 139.20,169.28 139.46,171.40 139.31,173.18 140.10,175.00 140.21,176.68 140.02,178.47 140.95,180.24 140.57,181.81 140.80,183.50 140.62,185.25 141.77,186.66 141.45,188.35 141.60,190.00 141.74,191.33 142.31,193.11 141.55,194.67 141.73,196.79 141.58,197.96 142.42,199.67 141.77,201.58 142.48,203.18 142.72,204.55 143.01,206.60 142.70,208.10 142.32,209.58 142.93,211.56 142.81,213.03 143.07,214.77 143.39,216.97 143.02,218.51 143.80,219.97 144.00,222.21 143.64,223.59 144.26,225.39 144.00,227.10 144.07,229.05 144.68,230.32 144.28,231.98 144.68,234.07 145.27,235.68 145.47,237.30 144.82,238.75 145.50,240.40 146.32,242.27 145.86,243.52 146.60,245.06 146.80,246.45 147.01,248.32 147.40,249.90 147.82,251.31 149.82,253.38 150.73,254.94 151.20,256.50 154.00,257.30" fill="none" stroke="#3a3a3a" stroke-width="1.4" stroke-linejoin="round" stroke-linecap="round" />
<polyline points="248.00,257.20 250.03,257.40 251.81,256.78 253.23,256.88 254.97,256.84 256.51,257.21 258.29,256.71 259.87,256.78 262.03,256.63 263.02,256.81 264.51,256.72 267.12,256.62 268.05,256.53 270.00,256.50 271.70,256.10 272.92,255.92 274.77,255.94 276.43,255.66 277.88,255.70 280.37,255.57 281.74,255.43 283.00,255.31 285.00,255.00 286.62,254.60 288.46,254.11 290.00,253.70 291.31,252.77 292.73,252.19 294.43,251.48 295.54,250.56 297.60,249.90 299.42,248.78 300.51,247.99 301.64,247.37 303.30,246.10 304.25,244.85 305.27,242.96 307.23,241.79 308.00,240.40 308.00,238.74 308.90,237.39 309.02,235.47 310.44,234.22 310.04,232.38 310.90,230.90 311.09,229.35 311.73,227.81 312.30,225.92 312.56,224.41 312.94,222.57 313.31,221.06 313.81,219.02 313.70,217.60 314.43,215.58 314.64,214.28 314.66,212.84 315.07,210.79 315.62,209.40 315.75,207.39 315.90,205.75 316.52,203.95 316.60,202.40 316.75,200.81 317.02,199.03 317.73,197.74 317.69,195.85 317.61,194.13 317.84,192.68 318.50,191.00 318.94,189.08 319.66,187.58 319.93,186.27 320.40,184.20 320.17,183.02 320.06,180.80 321.02,179.45 321.30,177.80 322.08,176.40 321.98,174.96 322.27,173.06 322.77,171.39 322.73,169.95 323.20,168.30 323.74,166.92 324.79,164.97 324.86,163.19 326.00,161.60 328.00,161.10 328.82,162.91 329.95,164.88 330.80,166.40 331.50,168.10 331.11,169.90 331.92,171.43 331.59,173.45 331.39,174.83 332.47,176.88 332.14,178.11 332.75,180.21 332.86,182.11 332.70,183.50 333.30,185.17 332.67,186.80 333.23,188.66 333.05,190.16 333.71,192.16 333.57,194.13 334.06,195.23 333.98,197.44 334.04,199.09 333.88,200.55 334.60,202.40 335.15,204.18 335.13,205.65 335.12,207.62 335.03,209.41 335.50,211.36 335.72,212.70 335.39,214.26 336.27,215.96 335.71,217.73 336.35,219.89 336.50,221.40 336.86,223.26 336.49,224.40 337.51,226.27 337.69,227.95 337.32,229.56 337.48,231.64 338.25,232.94 338.40,234.70 338.62,236.25 338.45,238.21 339.31,239.89 339.42,241.29 339.48,242.54 340.50,244.71 340.30,246.10 340.73,247.95 341.91,249.14 342.31,251.15 342.83,252.73 343.18,253.94 344.10,255.60 346.24,256.22 347.90,257.20" fill="none" stroke="#c2c2c2" stroke-width="1.4" stroke-linejoin="round" stroke-linecap="round" />
<polyline points="249.00,257.20 250.48,257.38 252.37,257.25 253.79,256.78 255.61,256.72 257.98,256.72 259.22,256.53 260.88,256.64 262.43,256.36 263.82,256.79 265.76,256.34 267.28,256.30 269.02,256.06 271.00,256.30 272.85,256.00 273.95,256.04 275.55,255.55 278.04,255.25 279.27,255.52 281.34,254.88 282.50,255.05 284.20,255.00 286.00,254.50 287.35,254.30 289.34,253.32 291.00,253.00 292.47,252.06 294.27,251.44 296.00,250.96 296.93,250.03 298.60,249.50 300.14,248.31 301.86,247.25 302.89,246.53 304.30,245.50 305.22,244.18 306.52,242.60 307.90,240.88 309.00,239.50 309.36,237.64 309.61,236.56 310.25,234.86 310.50,233.21 311.26,231.58 311.90,230.00 312.03,228.04 312.39,226.47 312.54,225.12 313.06,223.24 314.10,221.81 314.42,220.19 313.95,218.13 314.70,216.60 314.50,215.03 315.52,213.12 315.57,211.64 316.21,209.68 316.69,208.06 316.78,206.26 316.53,205.05 317.54,203.23 317.60,201.40 317.37,199.47 317.77,197.94 318.20,196.44 318.18,194.76 319.11,193.05 319.60,191.67 319.50,190.00 320.09,188.19 320.13,186.82 320.38,184.72 321.27,183.58 321.01,181.45 321.99,180.17 321.45,178.28 322.30,176.80 322.19,175.41 322.61,173.91 323.52,171.78 323.78,170.40 324.16,169.10 324.20,167.30 324.66,165.50 326.09,164.20 326.77,162.85 327.00,161.20 329.00,161.60 329.96,163.27 330.54,164.47 330.61,166.08 331.80,167.40 331.91,169.12 332.65,170.57 332.66,172.23 332.78,174.44 332.49,175.98 333.46,177.75 333.18,179.20 332.84,180.99 333.41,182.59 333.70,184.50 333.66,185.98 334.27,188.05 333.93,189.48 334.41,191.34 335.04,192.99 334.52,195.06 334.52,196.57 334.90,198.45 335.31,200.14 335.06,201.79 335.60,203.40 335.88,205.10 336.24,207.07 335.69,208.44 336.14,210.12 335.98,211.89 336.30,213.90 336.75,215.24 336.79,217.20 337.00,218.73 336.86,220.35 337.50,222.40 338.28,224.23 337.52,225.87 338.74,227.43 338.02,229.04 338.62,230.51 338.97,232.05 339.62,234.13 339.40,235.70 339.81,237.62 340.11,238.79 339.93,240.35 339.97,242.40 341.13,243.71 340.68,245.56 341.30,247.10 342.31,248.86 342.20,250.25 343.56,251.71 343.64,252.83 344.82,254.40 345.10,256.00 346.86,256.63 348.90,257.20" fill="none" stroke="#a2a2a2" stroke-width="1.4" stroke-linejoin="round" stroke-linecap="round" />
<polyline points="250.00,257.20 251.52,257.38 253.05,256.82 255.07,257.16 257.02,257.18 258.78,257.29 259.99,256.96 261.29,256.79 263.42,256.60 265.21,256.62 266.60,257.11 267.88,256.46 269.93,256.52 271.91,256.35 273.71,256.87 275.00,256.60 276.98,256.44 278.09,256.48 280.02,256.21 281.49,256.12 283.52,256.26 285.44,255.71 286.44,255.78 288.40,255.61 290.00,255.60 291.56,255.13 293.61,255.17 296.22,255.27 298.00,255.11 299.50,254.60 301.63,254.03 303.09,253.01 304.57,252.72 306.00,252.00 307.03,250.95 309.00,249.79 309.91,248.57 311.00,247.60 311.83,245.99 312.48,243.66 314.00,242.00 314.92,240.14 314.99,238.46 316.03,236.58 316.90,234.70 317.21,232.82 317.77,230.83 317.68,228.79 318.50,227.10 319.20,225.50 318.62,224.08 319.04,221.95 319.62,220.42 319.85,218.99 319.83,217.38 320.40,215.70 320.21,214.05 320.97,212.10 321.01,210.43 321.28,209.29 321.64,207.53 322.11,205.47 322.60,204.21 322.30,202.40 322.10,200.97 322.66,198.88 323.52,197.49 323.55,195.56 323.79,193.86 323.44,192.42 323.43,190.91 324.20,189.20 324.11,187.41 324.88,185.83 325.30,184.29 325.51,182.59 325.78,181.13 325.18,179.39 325.60,177.74 326.00,175.90 326.48,174.34 326.16,172.27 327.12,170.88 327.39,168.51 327.54,166.78 327.77,165.47 328.00,163.50 329.80,162.20 330.32,164.08 331.70,165.40 332.18,166.86 331.94,168.60 332.94,170.31 332.43,171.56 332.72,173.70 333.09,175.16 333.50,176.86 333.89,178.13 334.72,180.01 334.60,181.60 335.00,183.50 335.47,184.68 335.00,186.47 335.36,188.65 335.88,189.79 335.39,192.01 336.13,193.43 336.09,194.97 336.69,196.83 336.50,198.60 337.02,200.34 336.26,201.81 336.53,203.85 337.05,204.95 336.70,206.82 337.14,208.63 337.16,210.14 337.40,211.90 337.07,213.64 337.64,214.96 337.99,217.29 337.74,218.42 338.64,220.19 338.42,222.03 338.62,223.77 339.12,225.71 339.30,227.10 340.08,228.46 339.84,230.60 340.42,232.27 340.40,233.84 340.34,235.27 341.05,237.32 341.45,238.86 341.20,240.40 341.40,242.20 342.29,243.66 342.59,245.19 342.91,246.85 342.79,248.44 343.49,250.49 344.10,251.80 345.03,253.06 345.72,254.32 346.78,255.61 347.90,257.20" fill="none" stroke="#1e1e1e" stroke-width="1.4" stroke-linejoin="round" stroke-linecap="round" />
<polyline points="68.00,401.00 69.06,400.49 71.20,399.50 72.38,398.21 73.74,396.87 74.54,395.46 75.91,394.37 77.62,393.28 78.60,392.00 80.93,391.44 82.76,391.16 83.69,390.44 86.00,390.20 87.66,389.26 88.98,387.85 90.70,386.40 91.24,385.09 91.46,383.29 92.99,381.60 92.90,379.89 93.41,378.50 94.40,377.10 96.02,375.06 97.20,373.40 97.49,371.62 98.11,370.47 98.56,368.44 99.06,367.36 99.31,365.19 99.94,364.13 100.00,362.30 100.30,360.19 100.61,358.57 101.84,356.77 101.90,354.80 103.27,356.46 103.70,358.50 103.98,356.81 104.81,354.74 105.32,352.84 105.60,351.10 105.31,349.39 105.50,347.87 106.02,346.13 106.51,344.32 106.56,342.50 107.27,341.21 107.54,339.22 107.33,338.00 107.40,336.20 107.36,334.28 107.31,332.65 108.13,330.96 108.32,329.53 108.16,327.98 108.33,326.37 108.52,324.50 108.82,322.80 108.70,321.30 109.12,319.85 109.38,317.92 109.56,316.74 109.40,314.65 109.66,313.47 109.42,311.23 109.99,310.03 110.20,308.30 111.20,305.50 111.86,307.09 112.46,308.68 112.56,310.27 112.12,311.98 113.00,313.90 112.75,315.53 113.54,316.94 114.20,318.69 113.56,320.19 114.45,322.30 114.05,323.34 114.97,325.11 114.90,326.90 116.03,328.47 116.25,329.93 116.70,331.60 117.51,333.20 117.46,335.12 117.69,336.63 118.60,338.10 118.31,339.87 118.87,341.68 118.69,343.15 119.26,345.06 120.04,346.53 119.44,347.96 119.67,349.75 119.82,351.26 120.60,353.22 120.50,354.80 120.42,356.78 120.48,358.16 120.56,360.01 121.48,361.27 121.50,363.29 121.13,364.62 121.50,366.65 121.28,368.17 121.80,369.70 122.08,371.29 122.24,373.20 122.01,374.83 122.35,376.38 123.07,377.62 123.25,379.78 122.80,380.76 123.20,382.70 123.06,384.61 123.23,386.17 123.67,387.66 123.90,388.88 124.83,390.43 124.74,392.58 125.20,393.90 126.44,396.02 127.73,397.33 128.20,399.50 130.50,401.00" fill="none" stroke="#bdbdbd" stroke-width="1.4" stroke-linejoin="round" stroke-linecap="round" />
<polyline points="64.00,401.00 65.41,400.44 67.40,399.50 68.68,397.87 69.55,396.67 70.54,395.25 71.16,394.51 72.56,393.11 73.41,391.52 74.90,390.20 75.30,388.55 76.15,387.12 76.91,385.56 78.10,383.54 78.74,382.20 80.16,380.50 80.50,379.00 80.72,377.71 81.98,375.95 81.84,373.99 82.36,372.32 82.64,371.01 83.57,369.44 84.20,367.80 84.46,365.83 85.23,364.61 85.48,362.90 86.05,361.54 86.67,359.72 86.56,357.81 86.99,356.60 87.36,354.57 87.90,353.00 88.15,351.13 89.15,349.40 89.07,348.37 89.03,346.52 89.51,344.64 89.67,342.92 90.73,341.72 90.70,339.90 91.62,338.05 91.85,336.68 92.26,335.28 92.36,334.01 92.48,332.31 93.50,330.60 94.29,329.02 94.40,327.76 94.41,325.93 95.37,324.18 95.73,322.60 95.93,321.16 96.30,319.50 96.96,317.83 97.38,316.43 97.40,314.92 97.91,313.57 98.60,311.90 99.10,310.20 100.90,308.30 103.70,307.40 105.60,306.40 106.12,308.26 106.29,309.91 107.57,312.04 107.60,313.90 107.91,315.78 108.50,317.45 108.08,319.69 108.68,321.43 109.00,323.20 109.84,325.31 110.35,326.60 110.29,328.97 110.90,330.60 111.54,331.95 111.09,333.64 111.32,335.31 112.38,337.01 112.28,338.33 112.50,340.53 112.90,341.80 113.38,343.39 113.40,345.25 113.97,346.44 114.15,348.21 114.24,349.75 114.33,351.44 114.61,352.86 115.00,354.80 114.88,356.47 114.94,357.84 115.88,359.53 115.66,361.13 116.43,362.66 116.42,364.79 116.16,366.12 116.70,367.80 117.21,369.52 116.93,370.77 117.20,372.62 117.68,374.21 117.54,376.09 118.17,377.53 117.89,379.31 118.20,380.90 118.99,382.56 119.36,384.76 119.02,386.59 119.29,388.06 119.80,390.20 120.78,391.97 121.23,393.90 122.34,395.92 122.60,397.60 123.68,399.06 125.80,400.40 128.00,401.00" fill="none" stroke="#6f6f6f" stroke-width="1.4" stroke-linejoin="round" stroke-linecap="round" />
<polyline points="62.00,401.00 63.76,400.23 65.60,399.50 67.37,398.04 68.37,396.96 69.73,395.29 71.20,393.90 72.31,392.61 73.59,391.06 74.39,389.10 75.80,387.94 76.70,386.40 77.63,385.03 77.55,383.12 78.13,381.96 78.80,379.93 80.15,378.69 80.50,377.10 80.41,375.63 81.53,373.92 81.21,372.47 82.01,370.81 83.05,369.38 83.31,367.35 83.30,366.00 83.50,364.41 83.53,363.12 84.21,361.04 84.64,359.44 85.62,358.04 85.63,356.35 86.00,354.80 85.89,352.81 87.16,351.28 87.53,349.06 87.19,347.06 87.90,345.50 88.32,343.56 88.62,341.77 89.13,339.83 89.75,337.86 89.80,336.20 90.62,334.38 90.03,332.36 90.92,330.56 91.31,328.64 91.60,326.90 91.73,325.24 92.13,323.32 93.07,321.38 93.07,319.75 93.50,317.60 93.80,315.99 93.73,313.84 94.73,311.72 95.34,309.88 95.30,308.30 96.70,305.50 97.34,306.86 98.23,308.67 98.30,310.20 98.95,311.78 99.12,313.49 99.02,314.77 99.93,316.31 100.33,317.94 99.75,319.45 100.50,321.30 101.10,323.20 100.98,324.60 101.09,326.37 101.85,327.47 101.44,329.43 101.71,331.12 102.50,332.50 102.54,333.92 103.13,335.58 103.38,337.07 104.04,338.78 104.23,340.27 104.46,342.42 104.40,343.70 104.54,345.15 104.78,347.31 104.87,349.00 104.98,350.71 105.94,352.44 106.14,353.99 106.20,356.00 106.79,357.38 107.12,359.58 107.36,360.89 106.87,362.40 107.60,364.12 108.02,365.48 107.76,367.62 108.00,369.00 108.42,370.81 108.18,372.33 108.69,374.62 109.64,375.96 110.04,377.62 109.99,380.02 110.20,381.50 110.46,383.46 111.24,384.54 111.32,386.47 111.66,388.33 112.01,390.02 112.80,391.50 113.38,392.74 114.47,394.28 115.26,396.27 116.00,397.60 117.86,398.97 119.50,400.40 122.00,401.00" fill="none" stroke="#1e1e1e" stroke-width="1.4" stroke-linejoin="round" stroke-linecap="round" />
<line x1="212.60" y1="297.40" x2="212.60" y2="402.10" stroke="#1a1a1a" stroke-width="1.35" />
<line x1="212.60" y1="399.60" x2="366.30" y2="399.60" stroke="#1a1a1a" stroke-width="1.3" />
<line x1="209.10" y1="399.60" x2="212.60" y2="399.60" stroke="#1a1a1a" stroke-width="1" />
<text x="208.60" y="402.20" font-size="7.6" fill="#1a1a1a" text-anchor="end">0</text>
<line x1="209.10" y1="357.10" x2="212.60" y2="357.10" stroke="#1a1a1a" stroke-width="1" />
<text x="208.60" y="359.70" font-size="7.6" fill="#1a1a1a" text-anchor="end">50</text>
<line x1="209.10" y1="314.60" x2="212.60" y2="314.60" stroke="#1a1a1a" stroke-width="1" />
<text x="208.60" y="317.20" font-size="7.6" fill="#1a1a1a" text-anchor="end">100</text>
<line x1="212.60" y1="399.60" x2="212.60" y2="403.40" stroke="#1a1a1a" stroke-width="1.1" />
<line x1="220.26" y1="399.60" x2="220.26" y2="402.50" stroke="#1a1a1a" stroke-width="0.9" />
<line x1="224.74" y1="399.60" x2="224.74" y2="402.50" stroke="#1a1a1a" stroke-width="0.9" />
<line x1="227.92" y1="399.60" x2="227.92" y2="402.50" stroke="#1a1a1a" stroke-width="0.9" />
<line x1="230.39" y1="399.60" x2="230.39" y2="402.50" stroke="#1a1a1a" stroke-width="0.9" />
<line x1="232.40" y1="399.60" x2="232.40" y2="402.50" stroke="#1a1a1a" stroke-width="0.9" />
<line x1="234.11" y1="399.60" x2="234.11" y2="402.50" stroke="#1a1a1a" stroke-width="0.9" />
<line x1="235.58" y1="399.60" x2="235.58" y2="402.50" stroke="#1a1a1a" stroke-width="0.9" />
<line x1="236.89" y1="399.60" x2="236.89" y2="402.50" stroke="#1a1a1a" stroke-width="0.9" />
<text x="211.80" y="411.70" font-size="7.2" fill="#1a1a1a" text-anchor="middle">10<tspan font-size="4.90" dy="-2.6">-6</tspan></text>
<line x1="238.05" y1="399.60" x2="238.05" y2="403.40" stroke="#1a1a1a" stroke-width="1.1" />
<line x1="245.71" y1="399.60" x2="245.71" y2="402.50" stroke="#1a1a1a" stroke-width="0.9" />
<line x1="250.19" y1="399.60" x2="250.19" y2="402.50" stroke="#1a1a1a" stroke-width="0.9" />
<line x1="253.37" y1="399.60" x2="253.37" y2="402.50" stroke="#1a1a1a" stroke-width="0.9" />
<line x1="255.84" y1="399.60" x2="255.84" y2="402.50" stroke="#1a1a1a" stroke-width="0.9" />
<line x1="257.85" y1="399.60" x2="257.85" y2="402.50" stroke="#1a1a1a" stroke-width="0.9" />
<line x1="259.56" y1="399.60" x2="259.56" y2="402.50" stroke="#1a1a1a" stroke-width="0.9" />
<line x1="261.03" y1="399.60" x2="261.03" y2="402.50" stroke="#1a1a1a" stroke-width="0.9" />
<line x1="262.34" y1="399.60" x2="262.34" y2="402.50" stroke="#1a1a1a" stroke-width="0.9" />
<text x="237.25" y="411.70" font-size="7.2" fill="#1a1a1a" text-anchor="middle">10<tspan font-size="4.90" dy="-2.6">-5</tspan></text>
<line x1="263.50" y1="399.60" x2="263.50" y2="403.40" stroke="#1a1a1a" stroke-width="1.1" />
<line x1="271.16" y1="399.60" x2="271.16" y2="402.50" stroke="#1a1a1a" stroke-width="0.9" />
<line x1="275.64" y1="399.60" x2="275.64" y2="402.50" stroke="#1a1a1a" stroke-width="0.9" />
<line x1="278.82" y1="399.60" x2="278.82" y2="402.50" stroke="#1a1a1a" stroke-width="0.9" />
<line x1="281.29" y1="399.60" x2="281.29" y2="402.50" stroke="#1a1a1a" stroke-width="0.9" />
<line x1="283.30" y1="399.60" x2="283.30" y2="402.50" stroke="#1a1a1a" stroke-width="0.9" />
<line x1="285.01" y1="399.60" x2="285.01" y2="402.50" stroke="#1a1a1a" stroke-width="0.9" />
<line x1="286.48" y1="399.60" x2="286.48" y2="402.50" stroke="#1a1a1a" stroke-width="0.9" />
<line x1="287.79" y1="399.60" x2="287.79" y2="402.50" stroke="#1a1a1a" stroke-width="0.9" />
<text x="262.70" y="411.70" font-size="7.2" fill="#1a1a1a" text-anchor="middle">10<tspan font-size="4.90" dy="-2.6">-4</tspan></text>
<line x1="288.95" y1="399.60" x2="288.95" y2="403.40" stroke="#1a1a1a" stroke-width="1.1" />
<line x1="296.61" y1="399.60" x2="296.61" y2="402.50" stroke="#1a1a1a" stroke-width="0.9" />
<line x1="301.09" y1="399.60" x2="301.09" y2="402.50" stroke="#1a1a1a" stroke-width="0.9" />
<line x1="304.27" y1="399.60" x2="304.27" y2="402.50" stroke="#1a1a1a" stroke-width="0.9" />
<line x1="306.74" y1="399.60" x2="306.74" y2="402.50" stroke="#1a1a1a" stroke-width="0.9" />
<line x1="308.75" y1="399.60" x2="308.75" y2="402.50" stroke="#1a1a1a" stroke-width="0.9" />
<line x1="310.46" y1="399.60" x2="310.46" y2="402.50" stroke="#1a1a1a" stroke-width="0.9" />
<line x1="311.93" y1="399.60" x2="311.93" y2="402.50" stroke="#1a1a1a" stroke-width="0.9" />
<line x1="313.24" y1="399.60" x2="313.24" y2="402.50" stroke="#1a1a1a" stroke-width="0.9" />
<text x="288.15" y="411.70" font-size="7.2" fill="#1a1a1a" text-anchor="middle">10<tspan font-size="4.90" dy="-2.6">-3</tspan></text>
<line x1="314.40" y1="399.60" x2="314.40" y2="403.40" stroke="#1a1a1a" stroke-width="1.1" />
<line x1="322.06" y1="399.60" x2="322.06" y2="402.50" stroke="#1a1a1a" stroke-width="0.9" />
<line x1="326.54" y1="399.60" x2="326.54" y2="402.50" stroke="#1a1a1a" stroke-width="0.9" />
<line x1="329.72" y1="399.60" x2="329.72" y2="402.50" stroke="#1a1a1a" stroke-width="0.9" />
<line x1="332.19" y1="399.60" x2="332.19" y2="402.50" stroke="#1a1a1a" stroke-width="0.9" />
<line x1="334.20" y1="399.60" x2="334.20" y2="402.50" stroke="#1a1a1a" stroke-width="0.9" />
<line x1="335.91" y1="399.60" x2="335.91" y2="402.50" stroke="#1a1a1a" stroke-width="0.9" />
<line x1="337.38" y1="399.60" x2="337.38" y2="402.50" stroke="#1a1a1a" stroke-width="0.9" />
<line x1="338.69" y1="399.60" x2="338.69" y2="402.50" stroke="#1a1a1a" stroke-width="0.9" />
<text x="313.60" y="411.70" font-size="7.2" fill="#1a1a1a" text-anchor="middle">10<tspan font-size="4.90" dy="-2.6">-2</tspan></text>
<line x1="339.85" y1="399.60" x2="339.85" y2="403.40" stroke="#1a1a1a" stroke-width="1.1" />
<line x1="347.51" y1="399.60" x2="347.51" y2="402.50" stroke="#1a1a1a" stroke-width="0.9" />
<line x1="351.99" y1="399.60" x2="351.99" y2="402.50" stroke="#1a1a1a" stroke-width="0.9" />
<line x1="355.17" y1="399.60" x2="355.17" y2="402.50" stroke="#1a1a1a" stroke-width="0.9" />
<line x1="357.64" y1="399.60" x2="357.64" y2="402.50" stroke="#1a1a1a" stroke-width="0.9" />
<line x1="359.65" y1="399.60" x2="359.65" y2="402.50" stroke="#1a1a1a" stroke-width="0.9" />
<line x1="361.36" y1="399.60" x2="361.36" y2="402.50" stroke="#1a1a1a" stroke-width="0.9" />
<line x1="362.83" y1="399.60" x2="362.83" y2="402.50" stroke="#1a1a1a" stroke-width="0.9" />
<line x1="364.14" y1="399.60" x2="364.14" y2="402.50" stroke="#1a1a1a" stroke-width="0.9" />
<text x="339.05" y="411.70" font-size="7.2" fill="#1a1a1a" text-anchor="middle">10<tspan font-size="4.90" dy="-2.6">-1</tspan></text>
<line x1="365.30" y1="399.60" x2="365.30" y2="403.40" stroke="#1a1a1a" stroke-width="1.1" />
<text x="364.50" y="411.70" font-size="7.2" fill="#1a1a1a" text-anchor="middle">10<tspan font-size="4.90" dy="-2.6">0</tspan></text>
<polyline points="238.05,380.90 263.50,342.65 288.95,327.35 314.40,314.60 339.85,317.15" fill="none" stroke="#bcbcbc" stroke-width="1.55" stroke-linejoin="round" stroke-linecap="round" />
<circle cx="238.05" cy="380.90" r="1.8" fill="#bcbcbc"/>
<circle cx="263.50" cy="342.65" r="1.8" fill="#bcbcbc"/>
<circle cx="288.95" cy="327.35" r="1.8" fill="#bcbcbc"/>
<circle cx="314.40" cy="314.60" r="1.8" fill="#bcbcbc"/>
<circle cx="339.85" cy="317.15" r="1.8" fill="#bcbcbc"/>
<polyline points="238.05,395.35 263.50,357.10 288.95,329.90 314.40,319.70 339.85,314.60" fill="none" stroke="#6c6c6c" stroke-width="1.55" stroke-linejoin="round" stroke-linecap="round" />
<rect x="236.35" y="393.65" width="3.4" height="3.4" fill="#6c6c6c"/>
<rect x="261.80" y="355.40" width="3.4" height="3.4" fill="#6c6c6c"/>
<rect x="287.25" y="328.20" width="3.4" height="3.4" fill="#6c6c6c"/>
<rect x="312.70" y="318.00" width="3.4" height="3.4" fill="#6c6c6c"/>
<rect x="338.15" y="312.90" width="3.4" height="3.4" fill="#6c6c6c"/>
<polyline points="238.05,397.90 263.50,382.60 288.95,344.35 314.40,323.10 339.85,314.60" fill="none" stroke="#1e1e1e" stroke-width="1.55" stroke-linejoin="round" stroke-linecap="round" />
<polygon points="238.05,400.10 240.25,396.30 235.85,396.30" fill="#1e1e1e"/>
<polygon points="263.50,384.80 265.70,381.00 261.30,381.00" fill="#1e1e1e"/>
<polygon points="288.95,346.55 291.15,342.75 286.75,342.75" fill="#1e1e1e"/>
<polygon points="314.40,325.30 316.60,321.50 312.20,321.50" fill="#1e1e1e"/>
<polygon points="339.85,316.80 342.05,313.00 337.65,313.00" fill="#1e1e1e"/>
<line x1="213.40" y1="421.00" x2="213.40" y2="525.50" stroke="#1a1a1a" stroke-width="1.35" />
<line x1="213.40" y1="523.00" x2="367.10" y2="523.00" stroke="#1a1a1a" stroke-width="1.3" />
<line x1="209.90" y1="523.00" x2="213.40" y2="523.00" stroke="#1a1a1a" stroke-width="1" />
<text x="209.40" y="525.60" font-size="7.6" fill="#1a1a1a" text-anchor="end">0</text>
<line x1="209.90" y1="480.60" x2="213.40" y2="480.60" stroke="#1a1a1a" stroke-width="1" />
<text x="209.40" y="483.20" font-size="7.6" fill="#1a1a1a" text-anchor="end">50</text>
<line x1="209.90" y1="438.20" x2="213.40" y2="438.20" stroke="#1a1a1a" stroke-width="1" />
<text x="209.40" y="440.80" font-size="7.6" fill="#1a1a1a" text-anchor="end">100</text>
<line x1="213.40" y1="523.00" x2="213.40" y2="526.80" stroke="#1a1a1a" stroke-width="1.1" />
<line x1="221.06" y1="523.00" x2="221.06" y2="525.90" stroke="#1a1a1a" stroke-width="0.9" />
<line x1="225.54" y1="523.00" x2="225.54" y2="525.90" stroke="#1a1a1a" stroke-width="0.9" />
<line x1="228.72" y1="523.00" x2="228.72" y2="525.90" stroke="#1a1a1a" stroke-width="0.9" />
<line x1="231.19" y1="523.00" x2="231.19" y2="525.90" stroke="#1a1a1a" stroke-width="0.9" />
<line x1="233.20" y1="523.00" x2="233.20" y2="525.90" stroke="#1a1a1a" stroke-width="0.9" />
<line x1="234.91" y1="523.00" x2="234.91" y2="525.90" stroke="#1a1a1a" stroke-width="0.9" />
<line x1="236.38" y1="523.00" x2="236.38" y2="525.90" stroke="#1a1a1a" stroke-width="0.9" />
<line x1="237.69" y1="523.00" x2="237.69" y2="525.90" stroke="#1a1a1a" stroke-width="0.9" />
<text x="212.60" y="535.10" font-size="7.2" fill="#1a1a1a" text-anchor="middle">10<tspan font-size="4.90" dy="-2.6">-6</tspan></text>
<line x1="238.85" y1="523.00" x2="238.85" y2="526.80" stroke="#1a1a1a" stroke-width="1.1" />
<line x1="246.51" y1="523.00" x2="246.51" y2="525.90" stroke="#1a1a1a" stroke-width="0.9" />
<line x1="250.99" y1="523.00" x2="250.99" y2="525.90" stroke="#1a1a1a" stroke-width="0.9" />
<line x1="254.17" y1="523.00" x2="254.17" y2="525.90" stroke="#1a1a1a" stroke-width="0.9" />
<line x1="256.64" y1="523.00" x2="256.64" y2="525.90" stroke="#1a1a1a" stroke-width="0.9" />
<line x1="258.65" y1="523.00" x2="258.65" y2="525.90" stroke="#1a1a1a" stroke-width="0.9" />
<line x1="260.36" y1="523.00" x2="260.36" y2="525.90" stroke="#1a1a1a" stroke-width="0.9" />
<line x1="261.83" y1="523.00" x2="261.83" y2="525.90" stroke="#1a1a1a" stroke-width="0.9" />
<line x1="263.14" y1="523.00" x2="263.14" y2="525.90" stroke="#1a1a1a" stroke-width="0.9" />
<text x="238.05" y="535.10" font-size="7.2" fill="#1a1a1a" text-anchor="middle">10<tspan font-size="4.90" dy="-2.6">-5</tspan></text>
<line x1="264.30" y1="523.00" x2="264.30" y2="526.80" stroke="#1a1a1a" stroke-width="1.1" />
<line x1="271.96" y1="523.00" x2="271.96" y2="525.90" stroke="#1a1a1a" stroke-width="0.9" />
<line x1="276.44" y1="523.00" x2="276.44" y2="525.90" stroke="#1a1a1a" stroke-width="0.9" />
<line x1="279.62" y1="523.00" x2="279.62" y2="525.90" stroke="#1a1a1a" stroke-width="0.9" />
<line x1="282.09" y1="523.00" x2="282.09" y2="525.90" stroke="#1a1a1a" stroke-width="0.9" />
<line x1="284.10" y1="523.00" x2="284.10" y2="525.90" stroke="#1a1a1a" stroke-width="0.9" />
<line x1="285.81" y1="523.00" x2="285.81" y2="525.90" stroke="#1a1a1a" stroke-width="0.9" />
<line x1="287.28" y1="523.00" x2="287.28" y2="525.90" stroke="#1a1a1a" stroke-width="0.9" />
<line x1="288.59" y1="523.00" x2="288.59" y2="525.90" stroke="#1a1a1a" stroke-width="0.9" />
<text x="263.50" y="535.10" font-size="7.2" fill="#1a1a1a" text-anchor="middle">10<tspan font-size="4.90" dy="-2.6">-4</tspan></text>
<line x1="289.75" y1="523.00" x2="289.75" y2="526.80" stroke="#1a1a1a" stroke-width="1.1" />
<line x1="297.41" y1="523.00" x2="297.41" y2="525.90" stroke="#1a1a1a" stroke-width="0.9" />
<line x1="301.89" y1="523.00" x2="301.89" y2="525.90" stroke="#1a1a1a" stroke-width="0.9" />
<line x1="305.07" y1="523.00" x2="305.07" y2="525.90" stroke="#1a1a1a" stroke-width="0.9" />
<line x1="307.54" y1="523.00" x2="307.54" y2="525.90" stroke="#1a1a1a" stroke-width="0.9" />
<line x1="309.55" y1="523.00" x2="309.55" y2="525.90" stroke="#1a1a1a" stroke-width="0.9" />
<line x1="311.26" y1="523.00" x2="311.26" y2="525.90" stroke="#1a1a1a" stroke-width="0.9" />
<line x1="312.73" y1="523.00" x2="312.73" y2="525.90" stroke="#1a1a1a" stroke-width="0.9" />
<line x1="314.04" y1="523.00" x2="314.04" y2="525.90" stroke="#1a1a1a" stroke-width="0.9" />
<text x="288.95" y="535.10" font-size="7.2" fill="#1a1a1a" text-anchor="middle">10<tspan font-size="4.90" dy="-2.6">-3</tspan></text>
<line x1="315.20" y1="523.00" x2="315.20" y2="526.80" stroke="#1a1a1a" stroke-width="1.1" />
<line x1="322.86" y1="523.00" x2="322.86" y2="525.90" stroke="#1a1a1a" stroke-width="0.9" />
<line x1="327.34" y1="523.00" x2="327.34" y2="525.90" stroke="#1a1a1a" stroke-width="0.9" />
<line x1="330.52" y1="523.00" x2="330.52" y2="525.90" stroke="#1a1a1a" stroke-width="0.9" />
<line x1="332.99" y1="523.00" x2="332.99" y2="525.90" stroke="#1a1a1a" stroke-width="0.9" />
<line x1="335.00" y1="523.00" x2="335.00" y2="525.90" stroke="#1a1a1a" stroke-width="0.9" />
<line x1="336.71" y1="523.00" x2="336.71" y2="525.90" stroke="#1a1a1a" stroke-width="0.9" />
<line x1="338.18" y1="523.00" x2="338.18" y2="525.90" stroke="#1a1a1a" stroke-width="0.9" />
<line x1="339.49" y1="523.00" x2="339.49" y2="525.90" stroke="#1a1a1a" stroke-width="0.9" />
<text x="314.40" y="535.10" font-size="7.2" fill="#1a1a1a" text-anchor="middle">10<tspan font-size="4.90" dy="-2.6">-2</tspan></text>
<line x1="340.65" y1="523.00" x2="340.65" y2="526.80" stroke="#1a1a1a" stroke-width="1.1" />
<line x1="348.31" y1="523.00" x2="348.31" y2="525.90" stroke="#1a1a1a" stroke-width="0.9" />
<line x1="352.79" y1="523.00" x2="352.79" y2="525.90" stroke="#1a1a1a" stroke-width="0.9" />
<line x1="355.97" y1="523.00" x2="355.97" y2="525.90" stroke="#1a1a1a" stroke-width="0.9" />
<line x1="358.44" y1="523.00" x2="358.44" y2="525.90" stroke="#1a1a1a" stroke-width="0.9" />
<line x1="360.45" y1="523.00" x2="360.45" y2="525.90" stroke="#1a1a1a" stroke-width="0.9" />
<line x1="362.16" y1="523.00" x2="362.16" y2="525.90" stroke="#1a1a1a" stroke-width="0.9" />
<line x1="363.63" y1="523.00" x2="363.63" y2="525.90" stroke="#1a1a1a" stroke-width="0.9" />
<line x1="364.94" y1="523.00" x2="364.94" y2="525.90" stroke="#1a1a1a" stroke-width="0.9" />
<text x="339.85" y="535.10" font-size="7.2" fill="#1a1a1a" text-anchor="middle">10<tspan font-size="4.90" dy="-2.6">-1</tspan></text>
<line x1="366.10" y1="523.00" x2="366.10" y2="526.80" stroke="#1a1a1a" stroke-width="1.1" />
<text x="365.30" y="535.10" font-size="7.2" fill="#1a1a1a" text-anchor="middle">10<tspan font-size="4.90" dy="-2.6">0</tspan></text>
<polyline points="238.85,508.58 264.30,493.32 289.75,468.73 315.20,443.29 340.65,438.20" fill="none" stroke="#bcbcbc" stroke-width="1.55" stroke-linejoin="round" stroke-linecap="round" />
<rect x="237.15" y="506.88" width="3.4" height="3.4" fill="#bcbcbc"/>
<rect x="262.60" y="491.62" width="3.4" height="3.4" fill="#bcbcbc"/>
<rect x="288.05" y="467.03" width="3.4" height="3.4" fill="#bcbcbc"/>
<rect x="313.50" y="441.59" width="3.4" height="3.4" fill="#bcbcbc"/>
<rect x="338.95" y="436.50" width="3.4" height="3.4" fill="#bcbcbc"/>
<polyline points="238.85,500.10 264.30,476.36 289.75,463.64 315.20,454.31 340.65,438.20" fill="none" stroke="#6c6c6c" stroke-width="1.55" stroke-linejoin="round" stroke-linecap="round" />
<circle cx="238.85" cy="500.10" r="1.8" fill="#6c6c6c"/>
<circle cx="264.30" cy="476.36" r="1.8" fill="#6c6c6c"/>
<circle cx="289.75" cy="463.64" r="1.8" fill="#6c6c6c"/>
<circle cx="315.20" cy="454.31" r="1.8" fill="#6c6c6c"/>
<circle cx="340.65" cy="438.20" r="1.8" fill="#6c6c6c"/>
<polyline points="238.85,479.75 264.30,454.31 289.75,439.90 315.20,439.90 340.65,438.20" fill="none" stroke="#1e1e1e" stroke-width="1.55" stroke-linejoin="round" stroke-linecap="round" />
<polygon points="238.85,477.55 241.05,481.35 236.65,481.35" fill="#1e1e1e"/>
<polygon points="264.30,452.11 266.50,455.91 262.10,455.91" fill="#1e1e1e"/>
<polygon points="289.75,437.70 291.95,441.50 287.55,441.50" fill="#1e1e1e"/>
<polygon points="315.20,437.70 317.40,441.50 313.00,441.50" fill="#1e1e1e"/>
<polygon points="340.65,436.00 342.85,439.80 338.45,439.80" fill="#1e1e1e"/>
<rect x="61.7" y="451.7" width="12.6" height="12.6" fill="#cdcdcd" stroke="#2a2a2a" stroke-width="1"/>
<rect x="61.7" y="469.4" width="12.6" height="12.6" fill="#767676" stroke="#2a2a2a" stroke-width="1"/>
<rect x="61.7" y="487.1" width="12.6" height="12.6" fill="#464646" stroke="#1a1a1a" stroke-width="1"/>
<text x="80.3" y="462.3" font-size="12.1" fill="#1a1a1a" text-anchor="start" font-weight="normal" font-style="normal" textLength="37" lengthAdjust="spacingAndGlyphs" >3D-<tspan font-style="italic">wt</tspan></text>
<text x="80.3" y="480.0" font-size="12.1" fill="#1a1a1a" text-anchor="start" font-weight="normal" font-style="normal" textLength="46.8" lengthAdjust="spacingAndGlyphs" >3D-NYH</text>
<text x="80.3" y="498.4" font-size="12.1" fill="#1a1a1a" text-anchor="start" font-weight="normal" font-style="normal" textLength="43.1" lengthAdjust="spacingAndGlyphs" >3D-PYY</text>
<text x="1.2" y="14.0" font-size="16.6" fill="#111" text-anchor="start" font-weight="bold" font-style="normal" textLength="11.6" lengthAdjust="spacingAndGlyphs" style="stroke-width:0.5px;stroke:#111">A</text>
<text x="0.9" y="298.8" font-size="17.2" fill="#111" text-anchor="start" font-weight="bold" font-style="normal" textLength="10.8" lengthAdjust="spacingAndGlyphs" style="stroke-width:0.5px;stroke:#111">B</text>
<text x="25.2" y="11.2" font-size="12.6" fill="#1a1a1a" text-anchor="start" font-weight="normal" font-style="normal" textLength="79.6" lengthAdjust="spacingAndGlyphs" >Thy1.2<tspan font-size="7" dy="-4.6">+</tspan><tspan dy="4.6"> CD8</tspan><tspan font-size="7" dy="-4.6">+</tspan></text>
<text x="24.4" y="151.8" font-size="12.6" fill="#1a1a1a" text-anchor="start" font-weight="normal" font-style="normal" textLength="69.6" lengthAdjust="spacingAndGlyphs" >V&#946;10<tspan font-size="7" dy="-4.6">+</tspan><tspan dy="4.6"> CD8</tspan><tspan font-size="7" dy="-4.6">+</tspan></text>
<text x="82.5" y="130.6" font-size="12.6" fill="#1a1a1a" text-anchor="start" font-weight="normal" font-style="normal" textLength="32" lengthAdjust="spacingAndGlyphs" >V&#946;10</text>
<text x="83.3" y="272.1" font-size="12.6" fill="#1a1a1a" text-anchor="start" font-weight="normal" font-style="normal" textLength="31.8" lengthAdjust="spacingAndGlyphs" >V&#946;10</text>
<text x="83.6" y="415.8" font-size="12.6" fill="#1a1a1a" text-anchor="start" font-weight="normal" font-style="normal" textLength="32" lengthAdjust="spacingAndGlyphs" >V&#946;10</text>
<text x="251.9" y="130.8" font-size="12.6" fill="#1a1a1a" text-anchor="start" font-weight="normal" font-style="normal" textLength="86.1" lengthAdjust="spacingAndGlyphs" >WT1 tetramer</text>
<text x="252.6" y="272.4" font-size="12.6" fill="#1a1a1a" text-anchor="start" font-weight="normal" font-style="normal" textLength="85.8" lengthAdjust="spacingAndGlyphs" >WT1 tetramer</text>
<text transform="translate(15.9,68.25) rotate(-90)" x="0" y="0" font-size="12.6" fill="#1a1a1a" text-anchor="middle" textLength="50" lengthAdjust="spacingAndGlyphs">% of Max</text>
<text transform="translate(205.9,68.30000000000001) rotate(-90)" x="0" y="0" font-size="12.6" fill="#1a1a1a" text-anchor="middle" textLength="51" lengthAdjust="spacingAndGlyphs">% of Max</text>
<text transform="translate(15.9,207.15) rotate(-90)" x="0" y="0" font-size="12.6" fill="#1a1a1a" text-anchor="middle" textLength="51" lengthAdjust="spacingAndGlyphs">% of Max</text>
<text transform="translate(205.9,207.15) rotate(-90)" x="0" y="0" font-size="12.6" fill="#1a1a1a" text-anchor="middle" textLength="51" lengthAdjust="spacingAndGlyphs">% of Max</text>
<text transform="translate(15.9,351.85) rotate(-90)" x="0" y="0" font-size="12.6" fill="#1a1a1a" text-anchor="middle" textLength="50" lengthAdjust="spacingAndGlyphs">% of Max</text>
<text transform="translate(195.6,359.6) rotate(-90)" x="0" y="0" font-size="10.4" fill="#1a1a1a" text-anchor="middle" textLength="65" lengthAdjust="spacingAndGlyphs">% Max IFN+</text>
<text transform="translate(196.2,482.6) rotate(-90)" x="0" y="0" font-size="10.4" fill="#1a1a1a" text-anchor="middle" textLength="65.6" lengthAdjust="spacingAndGlyphs">% Max IFN+</text>
<text x="242.0" y="549.8" font-size="11.8" fill="#1a1a1a" text-anchor="start" font-weight="normal" font-style="normal" textLength="100" lengthAdjust="spacingAndGlyphs" style="stroke-width:0.25px">WT-1 peptide (uM)</text>
<text x="415.5" y="35.2" font-size="13.5" fill="#1a1a1a" text-anchor="middle" font-weight="normal" font-style="normal" textLength="66" lengthAdjust="spacingAndGlyphs" class="d">Retrogenic</text>
<text x="415.0" y="51.5" font-size="13.5" fill="#1a1a1a" text-anchor="middle" font-weight="normal" font-style="normal" textLength="72.5" lengthAdjust="spacingAndGlyphs" class="d">splenocytes</text>
<text x="375.8" y="176.6" font-size="13.5" fill="#1a1a1a" text-anchor="start" font-weight="normal" font-style="normal" textLength="97" lengthAdjust="spacingAndGlyphs" class="d">TCR-transduced</text>
<text x="375.8" y="193.0" font-size="13.5" fill="#1a1a1a" text-anchor="start" font-weight="normal" font-style="normal" textLength="97.4" lengthAdjust="spacingAndGlyphs" class="d">P14 CD8<tspan font-size="7.2" dy="-4.8">+</tspan><tspan dy="4.8"> T cells</tspan></text>
<text x="378.5" y="317.3" font-size="13.5" fill="#1a1a1a" text-anchor="start" font-weight="normal" font-style="normal" textLength="107.4" lengthAdjust="spacingAndGlyphs" class="d">Retrogenic T cells</text>
<text x="377.8" y="334.6" font-size="13.5" fill="#1a1a1a" text-anchor="start" font-weight="normal" font-style="normal" textLength="77.2" lengthAdjust="spacingAndGlyphs" class="d">cultured and</text>
<text x="377.8" y="352.0" font-size="13.5" fill="#1a1a1a" text-anchor="start" font-weight="normal" font-style="normal" textLength="112" lengthAdjust="spacingAndGlyphs" class="d">stimulated <tspan font-style="italic">ex vivo</tspan></text>
<text x="378.3" y="442.3" font-size="13.5" fill="#1a1a1a" text-anchor="start" font-weight="normal" font-style="normal" textLength="137.5" lengthAdjust="spacingAndGlyphs" class="d">P14 T cells transduced</text>
<text x="378.3" y="459.9" font-size="13.5" fill="#1a1a1a" text-anchor="start" font-weight="normal" font-style="normal" textLength="141" lengthAdjust="spacingAndGlyphs" class="d">with 3D-TCRs and then</text>
<text x="378.3" y="477.4" font-size="13.5" fill="#1a1a1a" text-anchor="start" font-weight="normal" font-style="normal" textLength="77.2" lengthAdjust="spacingAndGlyphs" class="d">cultured and</text>
<text x="378.3" y="494.7" font-size="13.5" fill="#1a1a1a" text-anchor="start" font-weight="normal" font-style="normal" textLength="112" lengthAdjust="spacingAndGlyphs" class="d">stimulated <tspan font-style="italic">ex vivo</tspan></text>
</svg>
</body></html>
